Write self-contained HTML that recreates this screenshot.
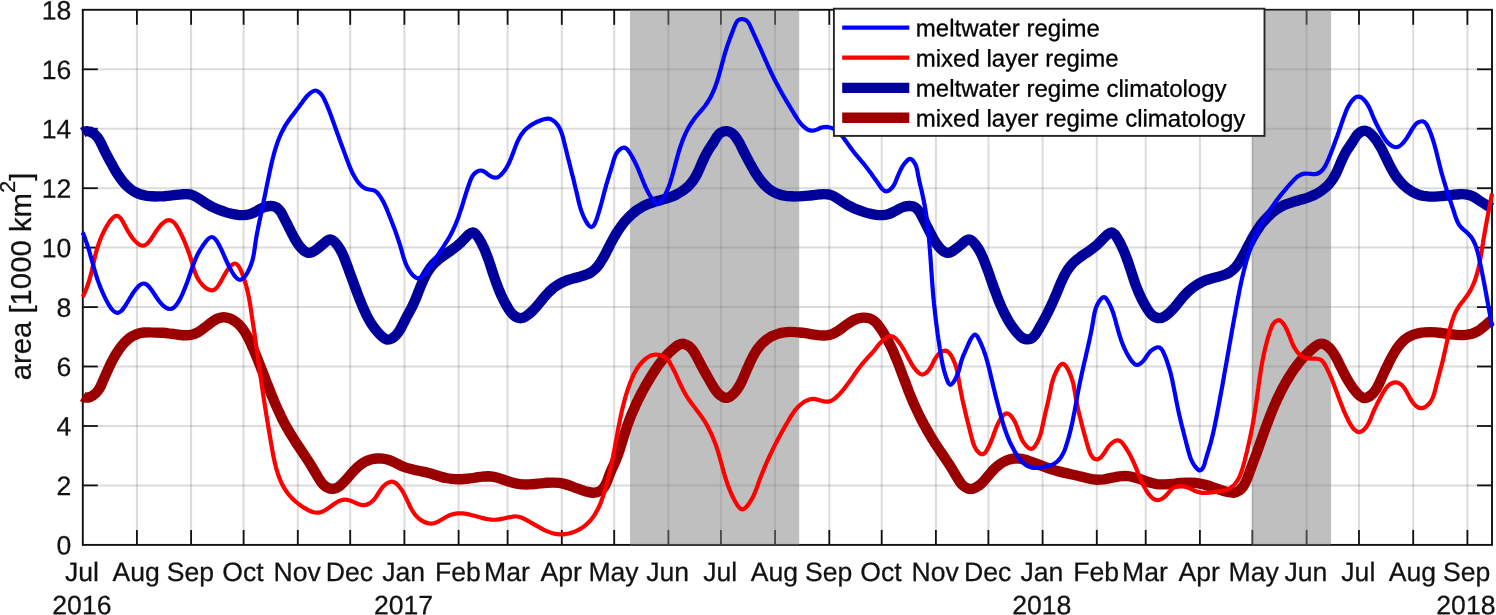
<!DOCTYPE html>
<html lang="en"><head><meta charset="utf-8"><title>area [1000 km2] time series</title>
<style>html,body{margin:0;padding:0;background:#fff}svg{display:block}</style></head>
<body>
<svg width="1496" height="615" viewBox="0 0 1496 615">
<rect x="0" y="0" width="1496" height="615" fill="#fff"/>
<g stroke="#111111" stroke-opacity="0.15" stroke-width="2" fill="none">
<path d="M136.9 9.8V544.9"/>
<path d="M191.1 9.8V544.9"/>
<path d="M243.6 9.8V544.9"/>
<path d="M297.8 9.8V544.9"/>
<path d="M350.2 9.8V544.9"/>
<path d="M404.4 9.8V544.9"/>
<path d="M458.6 9.8V544.9"/>
<path d="M507.6 9.8V544.9"/>
<path d="M561.8 9.8V544.9"/>
<path d="M614.2 9.8V544.9"/>
<path d="M668.4 9.8V544.9"/>
<path d="M720.9 9.8V544.9"/>
<path d="M775.1 9.8V544.9"/>
<path d="M829.3 9.8V544.9"/>
<path d="M881.7 9.8V544.9"/>
<path d="M935.9 9.8V544.9"/>
<path d="M988.4 9.8V544.9"/>
<path d="M1042.6 9.8V544.9"/>
<path d="M1096.8 9.8V544.9"/>
<path d="M1145.7 9.8V544.9"/>
<path d="M1199.9 9.8V544.9"/>
<path d="M1252.4 9.8V544.9"/>
<path d="M1306.6 9.8V544.9"/>
<path d="M1359.0 9.8V544.9"/>
<path d="M1413.2 9.8V544.9"/>
<path d="M1467.4 9.8V544.9"/>
<path d="M82.8 485.4H1492.0"/>
<path d="M82.8 426.0H1492.0"/>
<path d="M82.8 366.5H1492.0"/>
<path d="M82.8 307.1H1492.0"/>
<path d="M82.8 247.6H1492.0"/>
<path d="M82.8 188.2H1492.0"/>
<path d="M82.8 128.7H1492.0"/>
<path d="M82.8 69.3H1492.0"/>
</g>
<g stroke="#111111" stroke-width="1.8" fill="none">
<rect x="82.8" y="9.8" width="1409.2" height="535.1" stroke-width="1.9"/>
<path d="M136.9 544.9v-15"/>
<path d="M136.9 9.8v15"/>
<path d="M191.1 544.9v-15"/>
<path d="M191.1 9.8v15"/>
<path d="M243.6 544.9v-15"/>
<path d="M243.6 9.8v15"/>
<path d="M297.8 544.9v-15"/>
<path d="M297.8 9.8v15"/>
<path d="M350.2 544.9v-15"/>
<path d="M350.2 9.8v15"/>
<path d="M404.4 544.9v-15"/>
<path d="M404.4 9.8v15"/>
<path d="M458.6 544.9v-15"/>
<path d="M458.6 9.8v15"/>
<path d="M507.6 544.9v-15"/>
<path d="M507.6 9.8v15"/>
<path d="M561.8 544.9v-15"/>
<path d="M561.8 9.8v15"/>
<path d="M614.2 544.9v-15"/>
<path d="M614.2 9.8v15"/>
<path d="M668.4 544.9v-15"/>
<path d="M668.4 9.8v15"/>
<path d="M720.9 544.9v-15"/>
<path d="M720.9 9.8v15"/>
<path d="M775.1 544.9v-15"/>
<path d="M775.1 9.8v15"/>
<path d="M829.3 544.9v-15"/>
<path d="M829.3 9.8v15"/>
<path d="M881.7 544.9v-15"/>
<path d="M881.7 9.8v15"/>
<path d="M935.9 544.9v-15"/>
<path d="M935.9 9.8v15"/>
<path d="M988.4 544.9v-15"/>
<path d="M988.4 9.8v15"/>
<path d="M1042.6 544.9v-15"/>
<path d="M1042.6 9.8v15"/>
<path d="M1096.8 544.9v-15"/>
<path d="M1096.8 9.8v15"/>
<path d="M1145.7 544.9v-15"/>
<path d="M1145.7 9.8v15"/>
<path d="M1199.9 544.9v-15"/>
<path d="M1199.9 9.8v15"/>
<path d="M1252.4 544.9v-15"/>
<path d="M1252.4 9.8v15"/>
<path d="M1306.6 544.9v-15"/>
<path d="M1306.6 9.8v15"/>
<path d="M1359.0 544.9v-15"/>
<path d="M1359.0 9.8v15"/>
<path d="M1413.2 544.9v-15"/>
<path d="M1413.2 9.8v15"/>
<path d="M1467.4 544.9v-15"/>
<path d="M1467.4 9.8v15"/>
<path d="M82.8 485.4h15"/>
<path d="M1492.0 485.4h-15"/>
<path d="M82.8 426.0h15"/>
<path d="M1492.0 426.0h-15"/>
<path d="M82.8 366.5h15"/>
<path d="M1492.0 366.5h-15"/>
<path d="M82.8 307.1h15"/>
<path d="M1492.0 307.1h-15"/>
<path d="M82.8 247.6h15"/>
<path d="M1492.0 247.6h-15"/>
<path d="M82.8 188.2h15"/>
<path d="M1492.0 188.2h-15"/>
<path d="M82.8 128.7h15"/>
<path d="M1492.0 128.7h-15"/>
<path d="M82.8 69.3h15"/>
<path d="M1492.0 69.3h-15"/>
</g>
<rect x="630.0" y="9.8" width="169.2" height="535.1" fill="#808080" fill-opacity="0.5"/>
<rect x="1251.9" y="9.8" width="79.2" height="535.1" fill="#808080" fill-opacity="0.5"/>
<g fill="none" stroke-linejoin="round">
<path d="M82.7 132.5C84.3 131.5 85.9 131.0 87.8 131.2C89.6 131.3 91.6 132.2 93.4 133.4C95.2 134.6 96.6 136.2 97.9 137.9C99.1 139.5 100.1 141.4 101.0 143.2C101.9 145.1 102.8 146.9 103.6 148.7C104.5 150.5 105.4 152.2 106.2 153.9C107.1 155.6 108.0 157.3 108.9 159.0C109.8 160.7 110.8 162.5 111.8 164.2C112.7 166.0 113.7 167.8 114.8 169.6C115.8 171.4 116.9 173.2 118.1 174.9C119.2 176.6 120.4 178.3 121.7 180.0C122.9 181.6 124.3 183.2 125.6 184.6C127.0 186.1 128.5 187.4 130.0 188.6C131.5 189.9 133.1 191.0 134.8 191.9C136.4 192.8 138.2 193.6 140.0 194.2C141.8 194.8 143.7 195.2 145.7 195.6C147.6 195.9 149.6 196.2 151.6 196.3C153.6 196.4 155.7 196.5 157.7 196.4C159.8 196.4 161.9 196.3 164.0 196.2C166.1 196.0 168.1 195.8 170.2 195.6C172.3 195.4 174.3 195.2 176.3 194.9C178.3 194.7 180.3 194.5 182.2 194.3C184.2 194.2 186.1 194.1 187.9 194.2C189.8 194.4 191.6 194.8 193.4 195.5C195.2 196.2 197.0 197.3 198.8 198.5C200.6 199.7 202.3 200.9 204.1 202.1C205.8 203.2 207.5 204.3 209.3 205.2C211.0 206.2 212.8 207.1 214.5 207.9C216.3 208.7 218.1 209.5 219.9 210.2C221.8 210.9 223.6 211.5 225.5 212.1C227.4 212.7 229.4 213.3 231.4 213.7C233.4 214.2 235.4 214.6 237.5 214.8C239.5 215.1 241.5 215.2 243.5 215.1C245.5 215.0 247.5 214.7 249.4 214.2C251.3 213.7 253.1 212.9 254.9 212.0C256.7 211.0 258.5 210.0 260.2 209.0C262.0 208.1 263.9 207.2 265.8 206.6C267.7 206.1 269.7 205.8 271.6 206.0C273.6 206.1 275.4 206.7 277.0 207.7C278.5 208.8 279.8 210.4 281.0 212.2C282.1 214.0 283.1 216.0 284.1 218.0C285.0 219.9 286.0 221.7 286.9 223.5C287.8 225.3 288.6 227.0 289.5 228.7C290.4 230.5 291.3 232.2 292.1 233.9C293.0 235.6 293.9 237.3 294.9 239.0C295.9 240.7 297.0 242.5 298.2 244.2C299.4 245.9 300.8 247.6 302.3 249.2C303.9 250.7 305.6 252.0 307.3 252.6C309.1 253.2 310.8 252.8 312.6 251.9C314.4 251.1 316.2 249.7 317.9 248.4C319.5 247.1 321.1 245.8 322.8 244.4C324.4 243.0 326.0 241.3 327.6 240.3C329.2 239.3 330.9 239.2 332.5 240.2C334.1 241.1 335.6 242.8 337.0 244.6C338.4 246.4 339.5 248.2 340.5 250.0C341.6 251.8 342.4 253.6 343.2 255.4C344.0 257.2 344.7 259.0 345.4 260.9C346.1 262.7 346.8 264.5 347.5 266.4C348.2 268.2 348.8 270.1 349.5 272.0C350.2 273.9 350.9 275.8 351.6 277.6C352.3 279.5 353.0 281.4 353.7 283.3C354.4 285.2 355.1 287.2 355.8 289.0C356.5 290.9 357.2 292.8 357.9 294.7C358.6 296.6 359.4 298.5 360.1 300.3C360.9 302.2 361.6 304.0 362.4 305.9C363.2 307.7 364.0 309.5 364.8 311.3C365.6 313.1 366.4 314.9 367.3 316.6C368.2 318.3 369.2 320.1 370.2 321.8C371.2 323.5 372.3 325.1 373.5 326.8C374.7 328.4 375.9 330.0 377.3 331.6C378.7 333.2 380.1 334.8 381.7 336.2C383.3 337.7 385.0 338.9 386.7 339.4C388.5 339.9 390.3 339.4 392.0 338.5C393.7 337.5 395.2 336.2 396.5 334.7C397.8 333.2 399.0 331.6 400.0 329.8C401.1 328.0 402.0 326.2 402.9 324.3C403.9 322.5 404.8 320.6 405.7 318.8C406.6 317.0 407.6 315.3 408.5 313.6C409.5 311.8 410.4 310.1 411.3 308.4C412.2 306.7 413.0 304.9 413.8 303.1C414.7 301.3 415.4 299.4 416.2 297.5C416.9 295.7 417.7 293.8 418.4 291.9C419.1 290.0 419.9 288.1 420.7 286.2C421.4 284.3 422.2 282.4 423.1 280.6C423.9 278.7 424.8 276.9 425.7 275.2C426.7 273.4 427.7 271.7 428.8 270.1C429.9 268.4 431.0 266.9 432.3 265.4C433.6 263.9 435.0 262.5 436.5 261.2C438.0 259.9 439.6 258.6 441.2 257.4C442.8 256.2 444.5 255.0 446.1 253.9C447.8 252.7 449.5 251.5 451.1 250.4C452.8 249.2 454.4 248.0 455.9 246.8C457.5 245.6 459.0 244.3 460.4 243.0C461.8 241.6 463.1 240.2 464.5 238.7C466.0 237.2 467.6 235.4 469.3 234.1C471.0 232.7 472.7 232.1 474.1 232.8C475.6 233.5 476.9 235.3 478.0 237.1C479.2 239.0 480.3 240.8 481.3 242.7C482.2 244.5 483.2 246.4 484.0 248.2C484.8 250.1 485.6 251.9 486.3 253.8C487.0 255.6 487.7 257.5 488.4 259.3C489.0 261.2 489.6 263.1 490.3 264.9C490.9 266.8 491.5 268.7 492.1 270.6C492.7 272.5 493.3 274.4 494.0 276.3C494.6 278.2 495.3 280.1 496.0 282.0C496.7 283.9 497.4 285.8 498.1 287.7C498.9 289.6 499.6 291.4 500.4 293.3C501.2 295.1 502.0 296.9 502.9 298.7C503.7 300.4 504.6 302.2 505.6 303.9C506.6 305.7 507.6 307.4 508.7 309.2C509.8 310.9 511.0 312.6 512.5 314.1C513.9 315.6 515.5 316.8 517.4 317.5C519.3 318.3 521.3 318.4 523.2 317.7C525.0 317.1 526.8 315.8 528.4 314.5C530.0 313.3 531.5 311.9 532.9 310.5C534.3 309.1 535.6 307.6 536.9 306.1C538.2 304.6 539.5 303.1 540.7 301.5C542.0 300.0 543.3 298.4 544.6 296.8C545.9 295.2 547.3 293.7 548.7 292.2C550.1 290.8 551.6 289.5 553.1 288.2C554.7 287.0 556.3 285.9 558.0 284.8C559.7 283.8 561.4 282.9 563.2 282.0C565.0 281.2 566.8 280.4 568.7 279.8C570.6 279.1 572.6 278.6 574.5 278.1C576.5 277.6 578.5 277.1 580.4 276.6C582.4 276.0 584.3 275.4 586.1 274.7C587.9 274.0 589.7 273.2 591.3 272.1C592.9 271.1 594.4 269.8 595.8 268.4C597.1 267.0 598.4 265.4 599.6 263.7C600.7 262.0 601.8 260.2 602.9 258.4C603.9 256.6 604.9 254.7 605.9 252.9C606.8 251.0 607.8 249.2 608.7 247.4C609.6 245.6 610.5 243.9 611.4 242.1C612.4 240.4 613.3 238.6 614.3 236.9C615.2 235.2 616.2 233.6 617.3 231.9C618.3 230.2 619.4 228.6 620.6 227.0C621.7 225.4 622.9 223.8 624.2 222.2C625.5 220.7 626.8 219.2 628.2 217.7C629.6 216.3 631.1 214.9 632.6 213.6C634.1 212.2 635.7 211.0 637.3 209.9C639.0 208.7 640.7 207.7 642.4 206.7C644.2 205.8 646.0 204.9 647.8 204.2C649.7 203.5 651.6 202.8 653.5 202.2C655.5 201.7 657.4 201.1 659.4 200.5C661.3 200.0 663.3 199.5 665.2 198.9C667.1 198.3 669.0 197.6 670.9 196.9C672.8 196.2 674.6 195.4 676.4 194.5C678.2 193.6 679.9 192.6 681.6 191.5C683.2 190.4 684.8 189.2 686.3 188.0C687.8 186.7 689.2 185.3 690.5 183.8C691.8 182.4 693.0 180.8 694.1 179.1C695.2 177.5 696.2 175.7 697.1 173.9C698.0 172.1 698.9 170.2 699.7 168.3C700.5 166.4 701.3 164.5 702.1 162.6C702.9 160.8 703.7 158.9 704.6 157.1C705.5 155.2 706.4 153.5 707.4 151.8C708.4 150.1 709.4 148.5 710.5 146.9C711.6 145.3 712.8 143.7 713.8 142.0C714.9 140.2 715.9 138.3 717.1 136.6C718.2 134.9 719.5 133.3 721.2 132.4C722.9 131.4 725.1 131.0 727.0 131.2C728.9 131.4 730.6 132.2 732.1 133.3C733.6 134.5 735.0 136.0 736.2 137.7C737.4 139.4 738.5 141.3 739.6 143.2C740.6 145.1 741.5 147.1 742.4 148.9C743.3 150.6 744.2 152.4 745.1 154.1C746.0 155.8 746.8 157.4 747.7 159.1C748.6 160.8 749.5 162.5 750.5 164.3C751.4 166.0 752.4 167.8 753.5 169.6C754.5 171.4 755.6 173.2 756.8 174.9C757.9 176.6 759.1 178.3 760.4 180.0C761.6 181.6 763.0 183.2 764.3 184.6C765.7 186.1 767.2 187.5 768.7 188.7C770.2 189.9 771.8 191.0 773.5 191.9C775.2 192.8 776.9 193.6 778.8 194.2C780.6 194.8 782.5 195.3 784.4 195.6C786.4 196.0 788.3 196.2 790.4 196.3C792.4 196.4 794.4 196.5 796.5 196.4C798.6 196.4 800.6 196.3 802.7 196.1C804.8 196.0 806.9 195.8 808.9 195.6C811.0 195.4 813.0 195.1 815.1 194.9C817.1 194.7 819.0 194.4 821.0 194.3C822.9 194.1 824.8 194.1 826.7 194.3C828.5 194.4 830.4 194.8 832.2 195.5C834.0 196.2 835.8 197.3 837.5 198.5C839.3 199.7 841.1 201.0 842.8 202.1C844.6 203.2 846.3 204.3 848.0 205.3C849.8 206.2 851.5 207.1 853.3 207.9C855.1 208.8 856.8 209.5 858.7 210.2C860.5 210.9 862.4 211.5 864.3 212.1C866.2 212.7 868.2 213.3 870.2 213.7C872.2 214.2 874.2 214.6 876.2 214.8C878.2 215.1 880.3 215.2 882.3 215.1C884.3 215.0 886.2 214.7 888.1 214.2C890.0 213.7 891.8 212.9 893.6 211.9C895.4 211.0 897.2 210.0 899.0 209.0C900.8 208.0 902.6 207.2 904.5 206.6C906.5 206.1 908.5 205.8 910.4 206.0C912.3 206.1 914.2 206.7 915.7 207.8C917.3 208.9 918.6 210.5 919.7 212.3C920.8 214.1 921.8 216.1 922.8 218.0C923.8 219.9 924.7 221.7 925.6 223.5C926.5 225.3 927.4 227.1 928.2 228.8C929.1 230.5 930.0 232.2 930.9 233.9C931.8 235.6 932.7 237.3 933.6 239.1C934.6 240.8 935.7 242.5 936.9 244.2C938.1 245.9 939.5 247.7 941.1 249.2C942.6 250.8 944.3 252.1 946.1 252.6C947.8 253.2 949.6 252.8 951.4 251.9C953.2 251.0 954.9 249.7 956.6 248.3C958.3 247.0 959.9 245.8 961.5 244.4C963.1 242.9 964.7 241.2 966.4 240.3C968.0 239.3 969.6 239.2 971.2 240.2C972.8 241.1 974.3 242.8 975.6 244.7C977.0 246.5 978.2 248.3 979.2 250.1C980.2 251.9 981.1 253.7 981.9 255.5C982.7 257.3 983.5 259.1 984.2 260.9C984.9 262.7 985.6 264.5 986.3 266.4C987.0 268.3 987.7 270.1 988.4 272.0C989.1 273.9 989.7 275.8 990.4 277.7C991.0 279.6 991.7 281.5 992.4 283.4C993.0 285.3 993.7 287.2 994.4 289.1C995.1 291.0 995.8 292.9 996.5 294.8C997.2 296.7 997.9 298.5 998.7 300.4C999.4 302.3 1000.2 304.1 1001.0 306.0C1001.8 307.8 1002.6 309.6 1003.5 311.4C1004.3 313.2 1005.2 315.0 1006.2 316.7C1007.1 318.4 1008.1 320.1 1009.1 321.8C1010.1 323.5 1011.2 325.2 1012.4 326.8C1013.5 328.4 1014.7 330.0 1016.0 331.6C1017.4 333.2 1018.8 334.8 1020.3 336.2C1021.8 337.7 1023.6 338.8 1025.4 339.2C1027.3 339.6 1029.2 339.4 1030.9 338.7C1032.6 337.9 1034.0 336.5 1035.2 334.8C1036.4 333.2 1037.5 331.3 1038.5 329.5C1039.6 327.7 1040.6 325.9 1041.6 324.1C1042.6 322.4 1043.6 320.6 1044.5 318.8C1045.5 317.1 1046.4 315.3 1047.3 313.5C1048.2 311.8 1049.1 310.0 1049.9 308.2C1050.8 306.4 1051.6 304.6 1052.4 302.8C1053.2 301.1 1054.0 299.2 1054.8 297.4C1055.6 295.6 1056.4 293.8 1057.2 291.9C1057.9 290.0 1058.7 288.2 1059.5 286.3C1060.2 284.4 1061.0 282.5 1061.9 280.7C1062.7 278.8 1063.6 277.0 1064.5 275.2C1065.4 273.4 1066.4 271.7 1067.5 270.0C1068.6 268.4 1069.7 266.8 1071.0 265.3C1072.3 263.8 1073.7 262.4 1075.2 261.1C1076.7 259.8 1078.3 258.5 1079.9 257.3C1081.5 256.1 1083.2 255.0 1084.9 253.8C1086.6 252.7 1088.2 251.6 1089.9 250.4C1091.6 249.3 1093.2 248.1 1094.7 246.8C1096.3 245.6 1097.8 244.3 1099.1 242.9C1100.5 241.6 1101.8 240.1 1103.2 238.6C1104.7 237.1 1106.3 235.4 1108.0 234.1C1109.8 232.8 1111.5 232.2 1112.9 232.9C1114.3 233.6 1115.6 235.3 1116.7 237.1C1117.8 239.0 1118.9 240.8 1119.9 242.6C1120.8 244.5 1121.7 246.3 1122.6 248.2C1123.4 250.0 1124.2 251.9 1125.0 253.8C1125.7 255.7 1126.5 257.5 1127.1 259.4C1127.8 261.3 1128.5 263.2 1129.1 265.1C1129.7 267.0 1130.3 268.9 1131.0 270.8C1131.6 272.6 1132.2 274.5 1132.8 276.4C1133.4 278.3 1134.0 280.2 1134.7 282.1C1135.3 283.9 1136.0 285.8 1136.7 287.6C1137.4 289.5 1138.2 291.3 1139.0 293.2C1139.8 295.0 1140.6 296.8 1141.5 298.6C1142.4 300.4 1143.4 302.2 1144.4 304.0C1145.4 305.8 1146.4 307.5 1147.5 309.3C1148.6 311.0 1149.8 312.7 1151.2 314.2C1152.6 315.6 1154.2 316.8 1156.2 317.5C1158.1 318.2 1160.1 318.3 1161.9 317.7C1163.8 317.1 1165.5 315.9 1167.1 314.6C1168.7 313.4 1170.2 312.0 1171.6 310.5C1173.0 309.1 1174.4 307.6 1175.7 306.0C1177.0 304.5 1178.2 302.9 1179.5 301.3C1180.8 299.7 1182.0 298.2 1183.3 296.6C1184.6 295.1 1186.0 293.6 1187.4 292.2C1188.8 290.8 1190.3 289.5 1191.9 288.3C1193.4 287.1 1195.0 285.9 1196.7 284.9C1198.4 283.8 1200.1 282.9 1201.9 282.0C1203.7 281.2 1205.6 280.4 1207.5 279.7C1209.4 279.1 1211.3 278.5 1213.3 278.0C1215.3 277.5 1217.2 277.0 1219.2 276.5C1221.1 276.0 1223.0 275.4 1224.9 274.7C1226.7 274.0 1228.4 273.2 1230.0 272.1C1231.6 271.1 1233.1 269.8 1234.5 268.4C1235.8 267.0 1237.1 265.4 1238.3 263.7C1239.5 262.0 1240.6 260.2 1241.6 258.4C1242.6 256.5 1243.6 254.7 1244.6 252.8C1245.5 251.0 1246.5 249.2 1247.4 247.4C1248.3 245.6 1249.2 243.8 1250.2 242.1C1251.1 240.3 1252.0 238.6 1253.0 236.9C1254.0 235.2 1255.0 233.5 1256.0 231.9C1257.0 230.2 1258.1 228.6 1259.3 226.9C1260.4 225.3 1261.7 223.7 1262.9 222.2C1264.2 220.6 1265.6 219.1 1267.0 217.7C1268.4 216.2 1269.8 214.8 1271.3 213.5C1272.9 212.2 1274.4 211.0 1276.1 209.8C1277.7 208.7 1279.4 207.6 1281.2 206.7C1282.9 205.7 1284.7 204.9 1286.6 204.2C1288.4 203.5 1290.3 202.8 1292.3 202.2C1294.2 201.6 1296.2 201.1 1298.1 200.5C1300.1 200.0 1302.0 199.4 1303.9 198.9C1305.9 198.3 1307.8 197.6 1309.7 196.9C1311.5 196.2 1313.4 195.4 1315.2 194.5C1316.9 193.6 1318.7 192.6 1320.3 191.5C1322.0 190.4 1323.5 189.2 1325.0 187.9C1326.5 186.6 1327.9 185.3 1329.2 183.8C1330.5 182.3 1331.7 180.7 1332.8 179.1C1333.9 177.4 1334.9 175.7 1335.8 173.9C1336.7 172.0 1337.6 170.2 1338.4 168.3C1339.2 166.4 1340.0 164.5 1340.8 162.6C1341.6 160.7 1342.4 158.9 1343.3 157.0C1344.2 155.2 1345.1 153.4 1346.1 151.7C1347.1 150.0 1348.2 148.4 1349.3 146.8C1350.4 145.2 1351.5 143.6 1352.6 141.9C1353.6 140.2 1354.6 138.4 1355.7 136.7C1356.8 135.0 1358.2 133.5 1360.0 132.3C1361.8 131.2 1363.9 130.5 1365.8 130.8C1367.6 131.1 1369.3 132.3 1370.7 133.8C1372.2 135.2 1373.6 136.7 1374.8 138.3C1376.1 139.9 1377.2 141.6 1378.3 143.3C1379.4 145.0 1380.4 146.7 1381.3 148.4C1382.3 150.2 1383.2 152.0 1384.0 153.8C1384.9 155.6 1385.8 157.4 1386.7 159.2C1387.5 161.0 1388.4 162.8 1389.3 164.6C1390.2 166.4 1391.1 168.2 1392.1 169.9C1393.1 171.7 1394.1 173.4 1395.2 175.1C1396.3 176.8 1397.6 178.4 1398.8 180.0C1400.1 181.6 1401.5 183.1 1402.9 184.5C1404.4 185.9 1405.9 187.2 1407.5 188.5C1409.0 189.7 1410.7 190.8 1412.4 191.8C1414.1 192.7 1415.9 193.6 1417.7 194.3C1419.5 195.0 1421.4 195.5 1423.3 195.9C1425.2 196.2 1427.2 196.4 1429.2 196.6C1431.2 196.7 1433.2 196.7 1435.3 196.6C1437.3 196.5 1439.4 196.3 1441.4 196.1C1443.5 195.9 1445.5 195.7 1447.6 195.5C1449.6 195.2 1451.7 195.0 1453.7 194.7C1455.7 194.5 1457.7 194.3 1459.7 194.2C1461.6 194.1 1463.5 194.1 1465.4 194.3C1467.3 194.5 1469.2 195.0 1471.0 195.7C1472.8 196.4 1474.6 197.4 1476.4 198.5C1478.1 199.7 1479.9 200.9 1481.6 202.0C1483.3 203.1 1485.0 204.2 1486.7 205.2C1488.4 206.2 1490.2 207.2 1491.9 208.0" stroke="#00009a" stroke-width="10.4"/>
<path d="M82.7 396.5C84.3 397.5 86.1 397.8 87.9 397.5C89.8 397.2 91.6 396.4 93.3 395.2C95.0 394.1 96.5 392.6 97.7 391.0C98.9 389.4 100.0 387.6 100.9 385.8C101.8 383.9 102.6 382.0 103.4 380.1C104.2 378.2 105.0 376.4 105.8 374.5C106.6 372.7 107.4 370.8 108.3 369.0C109.1 367.2 109.9 365.4 110.8 363.6C111.7 361.8 112.6 360.1 113.6 358.3C114.5 356.6 115.5 354.8 116.6 353.1C117.7 351.4 118.8 349.7 120.0 348.1C121.2 346.5 122.5 344.9 123.8 343.4C125.2 341.9 126.6 340.5 128.1 339.2C129.6 337.9 131.2 336.8 132.9 335.9C134.6 334.9 136.4 334.1 138.3 333.6C140.2 333.0 142.2 332.7 144.3 332.5C146.3 332.4 148.5 332.3 150.5 332.4C152.6 332.4 154.7 332.5 156.7 332.6C158.8 332.7 160.7 332.8 162.6 332.8C164.5 332.9 166.4 333.0 168.3 333.3C170.3 333.5 172.3 333.8 174.4 334.1C176.4 334.4 178.5 334.7 180.6 335.0C182.6 335.2 184.7 335.3 186.7 335.3C188.7 335.3 190.6 335.0 192.4 334.5C194.3 334.1 196.0 333.3 197.7 332.4C199.4 331.4 201.1 330.3 202.7 329.1C204.4 327.9 206.0 326.6 207.6 325.3C209.3 324.0 211.0 322.7 212.7 321.5C214.4 320.3 216.2 319.2 218.1 318.4C219.9 317.7 221.8 317.2 223.7 317.2C225.6 317.2 227.6 317.6 229.6 318.4C231.5 319.2 233.2 320.1 234.9 321.3C236.5 322.4 238.0 323.6 239.4 325.0C240.7 326.4 242.0 327.9 243.1 329.5C244.3 331.1 245.3 332.7 246.3 334.5C247.3 336.2 248.3 338.0 249.2 339.8C250.0 341.7 250.9 343.5 251.7 345.4C252.5 347.2 253.4 349.1 254.2 351.0C255.0 352.9 255.7 354.7 256.5 356.6C257.3 358.5 258.0 360.4 258.8 362.3C259.5 364.1 260.3 366.0 261.0 367.9C261.7 369.8 262.5 371.7 263.2 373.6C263.9 375.4 264.7 377.3 265.4 379.2C266.1 381.1 266.8 383.0 267.6 384.8C268.3 386.7 269.0 388.6 269.8 390.4C270.5 392.3 271.3 394.2 272.0 396.0C272.8 397.9 273.5 399.7 274.3 401.5C275.1 403.4 275.9 405.2 276.7 407.0C277.5 408.8 278.3 410.6 279.2 412.4C280.0 414.2 280.9 416.0 281.7 417.8C282.6 419.6 283.5 421.4 284.4 423.1C285.4 424.9 286.3 426.6 287.3 428.3C288.3 430.1 289.3 431.8 290.3 433.5C291.4 435.2 292.4 436.9 293.5 438.6C294.6 440.2 295.6 441.9 296.7 443.6C297.8 445.3 298.9 446.9 300.1 448.6C301.2 450.3 302.3 452.0 303.4 453.7C304.5 455.3 305.7 457.0 306.8 458.7C307.9 460.4 309.0 462.2 310.1 463.9C311.2 465.6 312.3 467.4 313.3 469.1C314.4 470.9 315.4 472.7 316.5 474.5C317.5 476.3 318.5 478.1 319.6 479.8C320.7 481.5 321.8 483.1 323.2 484.5C324.5 485.8 326.0 487.0 327.8 487.7C329.5 488.5 331.6 488.9 333.6 488.7C335.5 488.6 337.3 487.8 338.9 486.6C340.5 485.4 342.0 484.0 343.4 482.5C344.8 481.0 346.2 479.5 347.6 478.0C348.9 476.4 350.3 474.9 351.6 473.3C353.0 471.8 354.4 470.3 355.8 468.9C357.2 467.4 358.7 466.1 360.3 464.9C361.8 463.7 363.4 462.6 365.2 461.7C366.9 460.8 368.8 460.1 370.7 459.5C372.7 459.0 374.7 458.7 376.7 458.5C378.8 458.4 380.8 458.4 382.9 458.6C384.9 458.9 386.9 459.3 388.9 459.9C390.8 460.5 392.6 461.4 394.4 462.3C396.2 463.2 398.0 464.2 399.8 465.1C401.6 466.0 403.4 466.7 405.3 467.4C407.2 468.0 409.1 468.5 411.0 469.0C413.0 469.5 414.9 469.9 416.9 470.4C418.9 470.8 420.8 471.2 422.8 471.6C424.8 472.0 426.8 472.5 428.7 473.0C430.7 473.5 432.6 474.1 434.5 474.8C436.4 475.4 438.3 476.0 440.3 476.6C442.2 477.1 444.1 477.6 446.1 478.0C448.0 478.4 450.0 478.7 452.0 478.9C454.0 479.1 455.9 479.2 457.9 479.2C459.9 479.2 461.9 479.2 463.9 479.0C466.0 478.9 468.0 478.7 470.0 478.4C472.0 478.2 474.0 477.9 476.0 477.5C478.0 477.2 480.0 476.8 482.0 476.6C484.0 476.3 486.0 476.2 487.9 476.2C489.9 476.3 491.8 476.5 493.8 476.9C495.7 477.3 497.6 477.8 499.5 478.4C501.5 479.0 503.4 479.7 505.3 480.3C507.2 481.0 509.1 481.6 511.1 482.2C513.0 482.8 515.0 483.3 516.9 483.7C518.9 484.1 520.8 484.3 522.8 484.4C524.8 484.5 526.8 484.5 528.8 484.4C530.8 484.3 532.8 484.2 534.9 484.0C536.9 483.8 538.9 483.6 540.9 483.4C542.9 483.2 545.0 483.0 547.0 482.8C549.0 482.7 551.0 482.6 553.0 482.6C555.0 482.6 557.0 482.7 559.0 482.9C560.9 483.2 562.9 483.6 564.8 484.1C566.8 484.6 568.7 485.2 570.6 485.9C572.5 486.6 574.4 487.4 576.3 488.1C578.3 488.8 580.2 489.6 582.1 490.2C584.0 490.9 585.9 491.5 587.9 491.9C589.8 492.4 591.8 492.7 593.7 492.7C595.7 492.7 597.6 492.3 599.4 491.3C601.2 490.4 602.7 489.0 603.9 487.4C605.1 485.8 606.0 484.0 606.8 482.1C607.5 480.1 608.2 478.1 608.9 476.2C609.6 474.3 610.4 472.4 611.2 470.6C612.0 468.7 612.9 466.9 613.7 465.1C614.5 463.3 615.3 461.5 616.0 459.6C616.8 457.8 617.5 455.9 618.2 454.1C618.8 452.2 619.5 450.3 620.1 448.4C620.7 446.5 621.3 444.5 621.9 442.6C622.5 440.7 623.1 438.8 623.7 436.8C624.3 434.9 624.9 433.0 625.5 431.1C626.2 429.1 626.8 427.2 627.4 425.3C628.1 423.4 628.8 421.5 629.5 419.7C630.2 417.8 630.9 415.9 631.7 414.1C632.5 412.2 633.2 410.4 634.1 408.6C634.9 406.8 635.7 404.9 636.5 403.1C637.4 401.3 638.3 399.5 639.2 397.7C640.1 396.0 641.0 394.2 641.9 392.4C642.8 390.6 643.8 388.9 644.8 387.1C645.8 385.4 646.7 383.6 647.8 381.9C648.8 380.2 649.8 378.5 650.9 376.7C651.9 375.0 653.0 373.3 654.1 371.6C655.2 369.9 656.3 368.2 657.5 366.6C658.6 364.9 659.8 363.3 661.1 361.7C662.3 360.1 663.6 358.6 664.9 357.1C666.2 355.6 667.6 354.1 669.0 352.7C670.5 351.3 672.0 350.0 673.5 348.7C675.1 347.4 676.7 346.1 678.4 345.1C680.1 344.1 681.9 343.5 683.8 343.8C685.7 344.1 687.6 345.2 689.3 346.5C691.0 347.9 692.3 349.5 693.5 351.2C694.7 352.9 695.7 354.7 696.6 356.5C697.5 358.3 698.4 360.1 699.4 361.9C700.3 363.7 701.2 365.4 702.1 367.1C703.1 368.9 704.0 370.6 705.0 372.3C705.9 374.0 706.9 375.7 707.9 377.4C708.9 379.2 709.9 380.9 710.9 382.7C712.0 384.4 713.0 386.3 714.1 388.0C715.2 389.8 716.4 391.5 717.8 393.0C719.1 394.5 720.6 395.8 722.4 396.7C724.1 397.7 726.0 398.1 727.8 397.7C729.7 397.2 731.4 395.9 732.9 394.4C734.4 392.9 735.8 391.3 736.9 389.7C738.1 388.0 739.1 386.4 740.1 384.6C741.0 382.9 741.9 381.1 742.7 379.3C743.5 377.5 744.3 375.7 745.1 373.8C745.9 371.9 746.7 370.0 747.5 368.1C748.4 366.3 749.2 364.4 750.0 362.5C750.9 360.6 751.8 358.8 752.7 357.0C753.7 355.2 754.6 353.4 755.7 351.7C756.8 350.1 757.9 348.4 759.2 346.9C760.4 345.3 761.7 343.9 763.2 342.5C764.6 341.1 766.2 339.9 767.8 338.8C769.4 337.6 771.2 336.6 773.0 335.7C774.7 334.9 776.6 334.2 778.5 333.6C780.3 333.0 782.3 332.6 784.2 332.4C786.1 332.1 788.1 331.9 790.1 331.9C792.1 331.9 794.1 331.9 796.1 332.1C798.2 332.2 800.2 332.5 802.3 332.7C804.3 333.0 806.4 333.4 808.4 333.7C810.5 334.1 812.6 334.4 814.6 334.7C816.7 335.1 818.7 335.3 820.7 335.4C822.7 335.6 824.7 335.5 826.6 335.3C828.5 335.1 830.3 334.7 832.1 334.1C833.9 333.4 835.6 332.5 837.2 331.4C838.9 330.4 840.6 329.2 842.2 328.0C843.8 326.7 845.5 325.5 847.2 324.3C848.8 323.1 850.6 321.9 852.3 320.9C854.1 319.9 856.0 319.1 857.9 318.5C859.8 318.0 861.8 317.6 863.8 317.6C865.8 317.6 867.7 317.8 869.5 318.4C871.3 319.0 872.9 320.0 874.5 321.3C876.0 322.5 877.4 324.0 878.6 325.7C879.9 327.3 881.1 329.1 882.2 330.9C883.4 332.7 884.4 334.4 885.4 336.2C886.4 337.9 887.4 339.7 888.3 341.5C889.2 343.2 890.1 345.0 891.0 346.8C891.8 348.5 892.7 350.3 893.5 352.1C894.3 354.0 895.0 355.8 895.8 357.6C896.6 359.5 897.3 361.3 898.1 363.2C898.8 365.0 899.5 366.9 900.2 368.8C900.9 370.6 901.6 372.5 902.3 374.4C903.1 376.3 903.8 378.2 904.5 380.1C905.2 381.9 905.9 383.8 906.6 385.7C907.3 387.6 908.0 389.5 908.7 391.4C909.5 393.2 910.2 395.1 911.0 397.0C911.8 398.8 912.5 400.7 913.3 402.5C914.1 404.4 915.0 406.2 915.8 408.0C916.6 409.9 917.5 411.7 918.4 413.5C919.2 415.3 920.1 417.1 921.0 418.9C921.9 420.7 922.9 422.4 923.8 424.2C924.8 426.0 925.7 427.7 926.7 429.4C927.7 431.2 928.7 432.9 929.7 434.6C930.7 436.3 931.8 438.0 932.8 439.7C933.9 441.4 934.9 443.1 936.0 444.7C937.1 446.4 938.2 448.1 939.3 449.7C940.4 451.4 941.6 453.0 942.7 454.7C943.8 456.3 944.9 458.0 946.0 459.6C947.1 461.3 948.3 463.0 949.4 464.7C950.5 466.4 951.5 468.1 952.6 469.9C953.7 471.7 954.7 473.5 955.8 475.3C956.8 477.1 957.8 478.9 959.0 480.6C960.1 482.3 961.3 483.9 962.7 485.2C964.1 486.5 965.7 487.6 967.5 488.3C969.4 489.0 971.4 489.1 973.3 488.6C975.2 488.0 977.0 487.0 978.7 485.7C980.4 484.5 981.9 483.1 983.2 481.7C984.6 480.2 985.8 478.7 987.1 477.2C988.3 475.6 989.6 474.1 990.9 472.6C992.2 471.0 993.6 469.5 995.1 468.1C996.6 466.7 998.2 465.4 999.9 464.2C1001.6 463.0 1003.4 462.0 1005.2 461.1C1007.0 460.2 1008.8 459.5 1010.7 459.1C1012.7 458.6 1014.6 458.4 1016.6 458.4C1018.5 458.5 1020.5 458.8 1022.5 459.2C1024.5 459.6 1026.4 460.2 1028.4 460.8C1030.3 461.5 1032.2 462.2 1034.1 462.9C1036.0 463.6 1037.9 464.3 1039.8 465.0C1041.7 465.7 1043.5 466.4 1045.4 467.1C1047.2 467.8 1049.1 468.5 1051.0 469.1C1052.9 469.7 1054.8 470.3 1056.7 470.9C1058.6 471.4 1060.5 471.9 1062.5 472.4C1064.4 472.9 1066.4 473.3 1068.4 473.7C1070.3 474.2 1072.3 474.6 1074.3 475.0C1076.2 475.5 1078.2 475.9 1080.2 476.4C1082.1 476.8 1084.1 477.3 1086.0 477.8C1088.0 478.2 1089.9 478.7 1091.9 479.1C1093.9 479.4 1095.8 479.6 1097.8 479.7C1099.8 479.7 1101.8 479.5 1103.8 479.3C1105.8 479.0 1107.8 478.6 1109.8 478.2C1111.8 477.8 1113.8 477.4 1115.8 477.0C1117.8 476.7 1119.8 476.4 1121.8 476.2C1123.8 476.0 1125.8 476.0 1127.8 476.1C1129.7 476.3 1131.7 476.7 1133.6 477.2C1135.5 477.7 1137.5 478.3 1139.4 478.9C1141.3 479.6 1143.2 480.3 1145.1 481.0C1147.1 481.6 1149.0 482.3 1150.9 482.8C1152.9 483.4 1154.8 483.8 1156.8 484.1C1158.7 484.3 1160.7 484.4 1162.7 484.4C1164.7 484.4 1166.7 484.3 1168.7 484.1C1170.7 483.9 1172.7 483.7 1174.7 483.6C1176.7 483.4 1178.8 483.2 1180.8 483.0C1182.8 482.9 1184.8 482.8 1186.8 482.7C1188.9 482.6 1190.9 482.6 1192.9 482.7C1194.9 482.8 1196.8 483.0 1198.8 483.3C1200.8 483.6 1202.7 484.1 1204.7 484.6C1206.6 485.1 1208.5 485.8 1210.4 486.4C1212.3 487.1 1214.2 487.8 1216.2 488.5C1218.1 489.2 1220.0 489.8 1221.9 490.4C1223.8 491.1 1225.8 491.6 1227.7 492.0C1229.6 492.4 1231.6 492.8 1233.6 492.7C1235.5 492.6 1237.4 491.9 1239.0 490.7C1240.7 489.6 1242.1 488.1 1243.2 486.5C1244.4 484.8 1245.3 483.0 1246.1 481.1C1246.9 479.2 1247.7 477.2 1248.4 475.3C1249.1 473.3 1249.8 471.4 1250.5 469.6C1251.2 467.7 1251.9 465.8 1252.6 463.9C1253.3 462.1 1254.0 460.2 1254.7 458.3C1255.4 456.5 1256.1 454.6 1256.8 452.7C1257.4 450.8 1258.1 448.9 1258.8 447.0C1259.4 445.2 1260.1 443.3 1260.8 441.4C1261.4 439.5 1262.1 437.6 1262.8 435.7C1263.4 433.8 1264.1 431.9 1264.8 430.1C1265.5 428.2 1266.2 426.3 1266.9 424.4C1267.6 422.5 1268.3 420.7 1269.0 418.8C1269.7 416.9 1270.5 415.1 1271.2 413.2C1271.9 411.4 1272.7 409.5 1273.5 407.7C1274.3 405.8 1275.1 404.0 1275.9 402.2C1276.7 400.3 1277.5 398.5 1278.4 396.7C1279.2 394.9 1280.1 393.1 1281.0 391.3C1281.9 389.5 1282.8 387.7 1283.8 386.0C1284.8 384.2 1285.7 382.5 1286.8 380.7C1287.8 379.0 1288.8 377.3 1289.9 375.6C1291.0 373.9 1292.1 372.2 1293.2 370.5C1294.4 368.9 1295.5 367.2 1296.8 365.6C1298.0 364.0 1299.2 362.4 1300.5 360.9C1301.8 359.3 1303.1 357.8 1304.5 356.3C1305.9 354.8 1307.3 353.4 1308.8 352.0C1310.2 350.6 1311.7 349.3 1313.3 348.0C1314.8 346.7 1316.4 345.4 1318.1 344.5C1319.7 343.6 1321.6 343.4 1323.4 344.0C1325.3 344.6 1327.2 345.9 1328.8 347.4C1330.4 348.9 1331.8 350.5 1332.9 352.2C1334.1 353.9 1335.1 355.6 1336.0 357.4C1337.0 359.2 1337.9 361.0 1338.8 362.8C1339.6 364.6 1340.5 366.4 1341.4 368.1C1342.3 369.9 1343.2 371.7 1344.1 373.4C1345.0 375.2 1345.9 377.0 1346.9 378.7C1347.9 380.4 1348.9 382.1 1350.0 383.8C1351.1 385.5 1352.3 387.2 1353.5 388.8C1354.8 390.5 1356.1 392.2 1357.5 393.7C1358.9 395.2 1360.5 396.6 1362.1 397.3C1363.7 398.1 1365.5 398.1 1367.3 397.4C1369.2 396.7 1371.0 395.3 1372.6 393.7C1374.1 392.2 1375.4 390.5 1376.5 388.7C1377.5 386.9 1378.4 385.1 1379.3 383.3C1380.1 381.5 1380.9 379.6 1381.7 377.9C1382.5 376.1 1383.3 374.3 1384.1 372.6C1384.9 370.8 1385.8 369.0 1386.7 367.3C1387.5 365.5 1388.4 363.7 1389.3 361.8C1390.2 360.0 1391.2 358.1 1392.2 356.3C1393.2 354.5 1394.2 352.7 1395.3 351.0C1396.4 349.2 1397.6 347.5 1398.8 345.9C1400.0 344.4 1401.3 342.9 1402.7 341.5C1404.1 340.1 1405.6 338.9 1407.2 337.8C1408.8 336.7 1410.6 335.8 1412.4 335.1C1414.2 334.3 1416.1 333.7 1418.0 333.3C1420.0 332.9 1422.0 332.5 1424.1 332.4C1426.1 332.2 1428.2 332.1 1430.3 332.1C1432.3 332.1 1434.4 332.2 1436.4 332.4C1438.4 332.6 1440.4 332.9 1442.4 333.1C1444.3 333.4 1446.3 333.7 1448.3 334.0C1450.2 334.3 1452.2 334.5 1454.2 334.7C1456.2 334.9 1458.2 335.0 1460.2 335.1C1462.2 335.1 1464.2 335.0 1466.1 334.8C1468.1 334.6 1470.0 334.2 1471.9 333.7C1473.8 333.1 1475.6 332.4 1477.4 331.4C1479.1 330.5 1480.7 329.3 1482.3 327.9C1483.9 326.6 1485.5 325.2 1487.1 323.8C1488.7 322.4 1490.3 321.1 1492.0 320.1" stroke="#9a0000" stroke-width="10.4"/>
<path d="M82.7 296.9C83.6 295.1 84.4 293.4 85.1 291.7C85.8 290.1 86.5 288.4 87.1 286.8C87.7 285.2 88.2 283.6 88.7 282.0C89.2 280.5 89.7 278.9 90.1 277.4C90.5 275.9 90.9 274.4 91.3 272.9C91.7 271.4 92.0 269.9 92.3 268.4C92.7 266.9 93.0 265.4 93.3 263.9C93.7 262.4 94.0 261.0 94.3 259.5C94.7 258.0 95.0 256.5 95.4 254.9C95.8 253.4 96.2 251.9 96.6 250.3C97.1 248.8 97.6 247.2 98.1 245.6C98.6 244.0 99.2 242.4 99.8 240.7C100.5 239.1 101.2 237.4 101.9 235.6C102.7 233.9 103.6 232.1 104.5 230.3C105.4 228.5 106.4 226.7 107.5 224.9C108.5 223.1 109.6 221.5 110.7 220.1C111.9 218.7 113.0 217.5 114.1 216.8C115.2 216.0 116.2 215.7 117.2 215.9C118.2 216.0 119.2 216.7 120.1 217.7C121.0 218.8 122.0 220.1 122.9 221.7C123.8 223.3 124.7 225.1 125.7 227.0C126.7 228.8 127.7 230.8 128.9 232.7C130.0 234.5 131.2 236.4 132.4 238.0C133.7 239.6 135.0 241.1 136.3 242.3C137.6 243.5 138.9 244.5 140.2 245.1C141.4 245.6 142.7 245.8 143.8 245.6C145.0 245.4 146.1 244.7 147.1 243.8C148.2 242.8 149.2 241.5 150.3 240.1C151.3 238.7 152.3 237.0 153.4 235.3C154.5 233.6 155.6 231.9 156.8 230.2C158.0 228.5 159.3 226.8 160.6 225.3C162.0 223.8 163.4 222.6 164.7 221.7C166.1 220.7 167.5 220.2 168.8 220.1C170.2 220.0 171.4 220.5 172.6 221.4C173.8 222.3 174.9 223.5 176.0 225.0C177.0 226.5 178.0 228.2 179.0 230.0C179.9 231.7 180.8 233.5 181.6 235.2C182.4 236.9 183.2 238.6 183.9 240.2C184.6 241.8 185.2 243.4 185.9 244.9C186.5 246.5 187.1 248.0 187.7 249.5C188.2 251.0 188.7 252.5 189.3 254.0C189.8 255.5 190.3 257.0 190.7 258.5C191.2 260.0 191.7 261.5 192.1 263.1C192.6 264.6 193.1 266.1 193.5 267.7C194.0 269.2 194.5 270.8 195.1 272.4C195.7 273.9 196.3 275.5 197.0 277.0C197.8 278.5 198.6 280.0 199.6 281.4C200.6 282.8 201.7 284.2 203.0 285.5C204.3 286.8 205.8 288.0 207.3 288.9C208.8 289.7 210.3 290.3 211.7 290.3C213.1 290.3 214.3 289.8 215.5 288.8C216.6 287.9 217.7 286.6 218.7 285.0C219.8 283.4 220.8 281.6 221.8 279.7C222.9 277.8 223.9 275.8 225.1 273.9C226.2 272.0 227.3 270.2 228.5 268.6C229.6 267.0 230.8 265.7 231.9 264.8C233.0 263.9 234.1 263.4 235.1 263.5C236.2 263.6 237.2 264.4 238.1 265.5C239.0 266.7 239.9 268.3 240.7 270.0C241.5 271.8 242.2 273.7 242.9 275.6C243.6 277.4 244.2 279.2 244.7 281.0C245.3 282.8 245.8 284.5 246.3 286.2C246.7 287.9 247.2 289.5 247.5 291.1C247.9 292.8 248.3 294.4 248.6 296.0C248.9 297.6 249.2 299.1 249.5 300.7C249.8 302.3 250.0 303.8 250.3 305.4C250.5 307.0 250.8 308.5 251.0 310.1C251.2 311.7 251.5 313.2 251.7 314.8C252.0 316.4 252.2 318.0 252.4 319.6C252.7 321.3 252.9 322.9 253.1 324.5C253.4 326.1 253.6 327.8 253.9 329.4C254.1 331.0 254.3 332.7 254.6 334.3C254.8 336.0 255.0 337.6 255.3 339.3C255.5 341.0 255.7 342.6 256.0 344.3C256.2 346.0 256.4 347.6 256.7 349.3C256.9 351.0 257.1 352.6 257.4 354.3C257.6 356.0 257.9 357.7 258.1 359.3C258.3 361.0 258.6 362.7 258.8 364.4C259.0 366.0 259.3 367.7 259.5 369.4C259.8 371.1 260.0 372.7 260.2 374.4C260.5 376.1 260.7 377.7 261.0 379.4C261.2 381.0 261.4 382.7 261.7 384.4C261.9 386.0 262.2 387.6 262.4 389.3C262.7 390.9 262.9 392.6 263.1 394.2C263.4 395.8 263.6 397.5 263.9 399.1C264.1 400.7 264.4 402.4 264.6 404.0C264.9 405.6 265.2 407.3 265.4 408.9C265.7 410.5 265.9 412.1 266.2 413.8C266.4 415.4 266.7 417.0 267.0 418.6C267.2 420.3 267.5 421.9 267.8 423.5C268.0 425.2 268.3 426.8 268.6 428.5C268.9 430.1 269.1 431.7 269.4 433.4C269.7 435.0 270.0 436.7 270.3 438.3C270.5 440.0 270.8 441.6 271.1 443.3C271.4 445.0 271.7 446.6 272.0 448.3C272.3 450.0 272.6 451.7 272.9 453.3C273.2 455.0 273.5 456.7 273.9 458.4C274.2 460.0 274.6 461.7 275.0 463.4C275.4 465.0 275.8 466.7 276.2 468.3C276.7 469.9 277.2 471.5 277.7 473.1C278.2 474.7 278.8 476.3 279.3 477.8C279.9 479.3 280.6 480.9 281.3 482.4C282.0 483.8 282.7 485.3 283.5 486.7C284.3 488.1 285.1 489.5 286.0 490.9C287.0 492.2 287.9 493.5 289.0 494.8C290.0 496.0 291.1 497.2 292.3 498.4C293.5 499.6 294.7 500.7 296.0 501.8C297.2 502.9 298.6 503.9 300.0 505.0C301.4 506.0 302.8 506.9 304.3 507.9C305.8 508.8 307.3 509.7 308.9 510.5C310.5 511.2 312.1 511.9 313.7 512.3C315.3 512.7 316.9 512.8 318.4 512.6C320.0 512.4 321.5 512.0 322.9 511.3C324.4 510.6 325.9 509.7 327.4 508.7C328.8 507.8 330.3 506.7 331.7 505.7C333.2 504.6 334.6 503.6 336.1 502.7C337.5 501.8 339.0 501.0 340.5 500.4C342.0 499.9 343.5 499.6 345.1 499.6C346.6 499.6 348.2 500.0 349.8 500.5C351.4 501.1 353.0 501.8 354.7 502.5C356.3 503.2 357.9 503.9 359.6 504.4C361.2 504.9 362.8 505.2 364.4 505.1C366.0 505.0 367.6 504.4 369.0 503.6C370.5 502.8 371.9 501.8 373.1 500.6C374.3 499.4 375.3 498.1 376.2 496.7C377.1 495.4 378.0 493.9 378.9 492.5C379.7 491.0 380.7 489.6 381.7 488.2C382.8 486.9 384.1 485.5 385.5 484.4C386.9 483.3 388.4 482.4 389.9 482.0C391.5 481.5 393.0 481.7 394.3 482.3C395.7 482.9 397.0 484.0 398.2 485.3C399.4 486.6 400.5 488.2 401.5 489.7C402.5 491.2 403.4 492.7 404.2 494.3C405.1 495.8 405.8 497.4 406.5 498.9C407.3 500.5 408.0 502.0 408.7 503.5C409.4 505.0 410.1 506.5 410.8 508.0C411.6 509.4 412.4 510.8 413.3 512.1C414.2 513.5 415.1 514.8 416.2 515.9C417.3 517.1 418.5 518.3 419.8 519.3C421.2 520.3 422.7 521.3 424.3 522.0C425.9 522.8 427.6 523.3 429.3 523.5C430.9 523.7 432.5 523.6 434.1 523.2C435.6 522.7 437.1 522.1 438.6 521.3C440.1 520.5 441.6 519.6 443.1 518.7C444.6 517.8 446.1 516.9 447.7 516.2C449.2 515.4 450.8 514.7 452.4 514.3C454.1 513.8 455.7 513.6 457.4 513.4C459.0 513.3 460.7 513.3 462.3 513.4C464.0 513.6 465.6 513.8 467.3 514.1C468.9 514.4 470.5 514.8 472.2 515.2C473.8 515.6 475.4 516.1 477.0 516.5C478.7 517.0 480.3 517.4 481.9 517.9C483.5 518.3 485.2 518.7 486.8 519.0C488.4 519.3 490.1 519.5 491.7 519.7C493.4 519.8 495.0 519.8 496.7 519.7C498.3 519.6 500.0 519.3 501.7 518.9C503.4 518.6 505.1 518.2 506.8 517.8C508.4 517.4 510.1 517.0 511.7 516.8C513.4 516.5 515.0 516.4 516.6 516.5C518.2 516.6 519.7 517.0 521.2 517.5C522.7 518.1 524.2 518.8 525.7 519.6C527.2 520.4 528.7 521.2 530.1 522.1C531.6 522.9 533.1 523.8 534.5 524.6C536.0 525.5 537.5 526.4 539.0 527.2C540.5 528.0 542.0 528.8 543.5 529.6C545.0 530.3 546.5 531.0 548.0 531.6C549.5 532.2 551.1 532.8 552.6 533.2C554.2 533.6 555.8 534.0 557.4 534.2C559.0 534.4 560.6 534.5 562.3 534.4C563.9 534.3 565.6 534.1 567.2 533.8C568.9 533.5 570.5 533.1 572.2 532.5C573.8 532.0 575.4 531.4 577.0 530.6C578.5 529.9 580.0 529.0 581.5 528.1C582.9 527.2 584.3 526.2 585.6 525.1C586.9 524.1 588.1 522.9 589.2 521.7C590.4 520.5 591.4 519.3 592.4 518.0C593.4 516.7 594.3 515.3 595.2 513.9C596.0 512.5 596.8 511.1 597.6 509.6C598.4 508.1 599.1 506.6 599.7 505.1C600.4 503.5 601.0 502.0 601.6 500.4C602.2 498.8 602.7 497.2 603.2 495.6C603.8 494.0 604.3 492.4 604.8 490.8C605.2 489.1 605.7 487.5 606.2 485.9C606.6 484.3 607.1 482.7 607.5 481.1C607.9 479.4 608.3 477.8 608.7 476.2C609.1 474.6 609.5 473.0 609.9 471.3C610.2 469.7 610.6 468.1 611.0 466.5C611.3 464.8 611.7 463.2 612.0 461.6C612.3 460.0 612.7 458.3 613.0 456.7C613.3 455.1 613.6 453.4 614.0 451.8C614.3 450.2 614.6 448.5 614.9 446.9C615.2 445.3 615.5 443.6 615.8 442.0C616.1 440.4 616.4 438.7 616.7 437.1C617.0 435.4 617.3 433.8 617.6 432.2C617.9 430.5 618.2 428.9 618.5 427.2C618.9 425.6 619.2 423.9 619.5 422.3C619.8 420.7 620.2 419.0 620.5 417.4C620.8 415.7 621.2 414.1 621.5 412.5C621.9 410.8 622.3 409.2 622.7 407.6C623.1 406.0 623.5 404.3 623.9 402.7C624.3 401.1 624.7 399.5 625.2 397.9C625.6 396.3 626.1 394.7 626.6 393.1C627.1 391.5 627.6 389.9 628.2 388.3C628.7 386.8 629.3 385.2 629.9 383.6C630.4 382.1 631.1 380.5 631.7 379.0C632.4 377.4 633.1 375.9 633.8 374.4C634.5 373.0 635.3 371.5 636.2 370.1C637.0 368.6 638.0 367.2 638.9 365.9C639.9 364.6 641.0 363.3 642.2 362.0C643.3 360.8 644.5 359.6 645.9 358.5C647.2 357.4 648.7 356.5 650.2 355.8C651.8 355.2 653.4 354.8 655.1 354.6C656.8 354.5 658.5 354.6 660.1 355.0C661.7 355.4 663.2 356.1 664.6 357.0C665.9 357.9 667.1 359.0 668.1 360.3C669.1 361.7 670.0 363.1 670.8 364.6C671.7 366.1 672.5 367.6 673.2 369.1C674.0 370.6 674.8 372.2 675.5 373.7C676.2 375.2 676.9 376.7 677.6 378.3C678.3 379.8 679.0 381.3 679.7 382.8C680.4 384.4 681.1 385.9 681.9 387.4C682.6 388.9 683.3 390.3 684.1 391.8C684.9 393.3 685.7 394.7 686.6 396.1C687.5 397.5 688.4 398.9 689.3 400.2C690.3 401.6 691.2 402.9 692.2 404.3C693.2 405.6 694.3 406.9 695.3 408.2C696.3 409.5 697.3 410.9 698.3 412.2C699.3 413.5 700.3 414.9 701.3 416.2C702.3 417.6 703.2 419.0 704.1 420.4C705.0 421.8 705.8 423.2 706.7 424.7C707.5 426.2 708.3 427.7 709.0 429.2C709.8 430.7 710.5 432.2 711.2 433.7C711.9 435.2 712.6 436.8 713.2 438.3C713.9 439.9 714.5 441.5 715.1 443.0C715.7 444.6 716.2 446.2 716.8 447.8C717.3 449.4 717.8 450.9 718.3 452.5C718.8 454.1 719.3 455.7 719.7 457.3C720.2 458.9 720.6 460.5 721.0 462.1C721.5 463.6 721.9 465.2 722.3 466.8C722.8 468.4 723.2 470.0 723.6 471.6C724.1 473.1 724.5 474.7 725.0 476.3C725.5 477.9 725.9 479.5 726.5 481.1C727.0 482.6 727.5 484.2 728.1 485.8C728.7 487.4 729.3 489.0 729.9 490.5C730.6 492.1 731.3 493.7 732.0 495.3C732.8 496.9 733.5 498.5 734.4 500.0C735.3 501.6 736.2 503.2 737.1 504.8C738.1 506.3 739.2 507.7 740.3 508.5C741.4 509.3 742.6 509.5 743.8 508.9C745.0 508.4 746.3 507.1 747.5 505.6C748.6 504.2 749.7 502.5 750.7 500.9C751.7 499.3 752.5 497.8 753.3 496.2C754.0 494.6 754.7 493.1 755.3 491.5C755.9 490.0 756.5 488.5 757.1 486.9C757.6 485.4 758.2 483.9 758.7 482.3C759.3 480.8 759.8 479.3 760.4 477.8C761.0 476.2 761.6 474.7 762.2 473.2C762.8 471.7 763.4 470.1 764.1 468.6C764.7 467.1 765.3 465.6 766.0 464.0C766.7 462.5 767.3 461.0 768.0 459.5C768.7 458.0 769.4 456.5 770.1 454.9C770.8 453.4 771.5 451.9 772.3 450.4C773.0 448.9 773.8 447.4 774.5 445.9C775.3 444.4 776.0 442.9 776.8 441.4C777.6 439.9 778.4 438.4 779.2 437.0C780.0 435.5 780.8 434.0 781.6 432.5C782.4 431.0 783.2 429.6 784.1 428.1C784.9 426.6 785.7 425.2 786.6 423.7C787.4 422.2 788.3 420.8 789.2 419.3C790.0 417.9 790.9 416.4 791.8 415.0C792.7 413.6 793.7 412.3 794.6 410.9C795.6 409.6 796.7 408.4 797.8 407.2C798.9 406.0 800.1 404.9 801.4 403.9C802.6 402.9 804.0 401.9 805.5 401.2C807.0 400.4 808.6 399.7 810.2 399.3C811.9 398.9 813.6 398.9 815.3 399.1C817.0 399.4 818.7 399.9 820.4 400.4C822.0 400.9 823.7 401.4 825.3 401.6C826.9 401.8 828.5 401.8 830.0 401.3C831.5 400.8 832.9 399.9 834.3 398.9C835.6 397.8 836.9 396.6 838.2 395.4C839.4 394.1 840.6 392.9 841.7 391.6C842.8 390.3 843.9 389.0 844.9 387.7C846.0 386.4 847.0 385.1 847.9 383.7C848.9 382.4 849.9 381.0 850.8 379.7C851.8 378.3 852.7 377.0 853.6 375.6C854.6 374.3 855.5 372.9 856.5 371.5C857.4 370.2 858.4 368.9 859.4 367.5C860.4 366.2 861.5 364.9 862.5 363.6C863.6 362.3 864.7 361.0 865.8 359.8C867.0 358.5 868.1 357.3 869.2 356.0C870.4 354.8 871.5 353.5 872.6 352.3C873.7 351.0 874.8 349.8 875.8 348.5C876.8 347.2 877.8 345.9 878.8 344.7C879.9 343.4 881.0 342.1 882.2 340.9C883.5 339.7 884.9 338.5 886.5 337.6C888.1 336.6 889.7 336.0 891.2 336.1C892.8 336.1 894.2 337.0 895.5 338.2C896.8 339.4 897.9 340.8 899.0 342.2C900.0 343.5 901.0 344.9 901.8 346.3C902.7 347.7 903.5 349.1 904.3 350.5C905.1 351.9 905.8 353.3 906.6 354.7C907.3 356.2 908.1 357.6 908.9 359.1C909.7 360.6 910.5 362.1 911.4 363.6C912.3 365.1 913.4 366.7 914.5 368.2C915.6 369.7 916.7 371.1 918.0 372.2C919.2 373.4 920.5 374.2 921.8 374.5C923.1 374.7 924.4 374.2 925.7 373.2C927.0 372.3 928.2 370.9 929.3 369.4C930.4 367.9 931.3 366.3 932.1 364.7C932.8 363.2 933.6 361.7 934.3 360.3C935.1 358.8 935.9 357.4 937.0 356.0C938.1 354.6 939.4 353.3 940.8 352.3C942.3 351.2 943.9 350.6 945.3 350.6C946.7 350.7 948.0 351.5 949.1 352.8C950.3 354.0 951.3 355.6 952.2 357.4C953.1 359.1 953.9 360.8 954.5 362.5C955.2 364.1 955.7 365.8 956.2 367.4C956.7 369.1 957.1 370.7 957.4 372.3C957.7 373.9 958.0 375.5 958.3 377.1C958.6 378.7 958.8 380.3 959.1 381.9C959.4 383.5 959.7 385.1 959.9 386.7C960.2 388.3 960.5 389.9 960.8 391.5C961.2 393.1 961.5 394.7 961.8 396.3C962.1 398.0 962.5 399.6 962.8 401.2C963.2 402.8 963.6 404.5 963.9 406.1C964.3 407.7 964.7 409.4 965.1 411.0C965.4 412.6 965.8 414.3 966.2 415.9C966.6 417.5 967.0 419.2 967.4 420.8C967.8 422.4 968.2 424.1 968.7 425.7C969.1 427.4 969.5 429.0 969.9 430.7C970.3 432.3 970.7 433.9 971.2 435.6C971.6 437.2 972.0 438.9 972.4 440.5C972.9 442.1 973.4 443.7 974.0 445.3C974.6 446.8 975.4 448.3 976.3 449.7C977.3 451.1 978.6 452.5 979.9 453.4C981.3 454.3 982.7 454.5 983.9 453.7C985.1 452.9 986.2 451.4 987.1 449.7C988.1 448.0 988.9 446.2 989.7 444.6C990.4 443.0 991.1 441.4 991.7 439.9C992.3 438.4 992.8 436.9 993.4 435.4C993.9 433.9 994.4 432.4 995.0 430.9C995.5 429.4 996.0 427.9 996.7 426.4C997.3 424.8 998.0 423.3 998.9 421.7C999.7 420.2 1000.7 418.6 1001.9 417.1C1003.0 415.6 1004.3 414.3 1005.6 413.7C1006.9 413.2 1008.3 413.6 1009.5 414.6C1010.8 415.5 1012.0 417.1 1013.0 418.7C1014.0 420.2 1014.9 421.8 1015.6 423.4C1016.4 425.0 1017.0 426.6 1017.6 428.2C1018.2 429.8 1018.7 431.4 1019.2 433.0C1019.8 434.5 1020.3 436.1 1021.0 437.5C1021.6 439.0 1022.3 440.5 1023.2 441.9C1024.1 443.2 1025.1 444.6 1026.3 445.8C1027.5 447.1 1028.9 448.4 1030.3 448.8C1031.8 449.1 1033.1 448.4 1034.2 447.1C1035.4 445.8 1036.4 444.0 1037.3 442.3C1038.1 440.6 1038.8 439.0 1039.5 437.3C1040.1 435.7 1040.6 434.1 1041.0 432.5C1041.4 430.9 1041.8 429.4 1042.1 427.8C1042.5 426.2 1042.8 424.7 1043.1 423.1C1043.5 421.5 1043.8 419.8 1044.2 418.2C1044.5 416.6 1044.9 414.9 1045.3 413.3C1045.7 411.6 1046.1 410.0 1046.5 408.3C1046.9 406.7 1047.2 405.1 1047.6 403.4C1048.0 401.8 1048.4 400.2 1048.7 398.6C1049.0 397.0 1049.4 395.4 1049.7 393.9C1050.0 392.3 1050.3 390.8 1050.6 389.3C1050.9 387.7 1051.2 386.2 1051.6 384.6C1051.9 383.1 1052.4 381.5 1052.9 379.8C1053.4 378.2 1054.0 376.5 1054.8 374.7C1055.5 372.9 1056.4 371.0 1057.4 369.2C1058.3 367.4 1059.4 365.8 1060.5 364.8C1061.6 363.9 1062.8 363.6 1063.9 364.2C1065.0 364.8 1066.1 366.2 1067.1 367.9C1068.1 369.5 1069.0 371.5 1069.8 373.3C1070.6 375.2 1071.3 376.9 1071.8 378.6C1072.4 380.3 1072.8 382.0 1073.2 383.6C1073.6 385.2 1073.9 386.7 1074.2 388.3C1074.5 389.8 1074.8 391.4 1075.0 392.9C1075.3 394.4 1075.5 396.0 1075.8 397.6C1076.0 399.1 1076.3 400.7 1076.7 402.3C1077.0 404.0 1077.3 405.6 1077.7 407.2C1078.0 408.9 1078.4 410.5 1078.8 412.2C1079.2 413.8 1079.6 415.5 1080.0 417.1C1080.4 418.8 1080.8 420.4 1081.2 422.0C1081.6 423.6 1082.0 425.2 1082.4 426.8C1082.8 428.4 1083.2 429.9 1083.7 431.5C1084.1 433.0 1084.5 434.6 1084.9 436.2C1085.4 437.7 1085.8 439.3 1086.3 440.9C1086.7 442.6 1087.2 444.2 1087.7 446.0C1088.2 447.7 1088.8 449.5 1089.4 451.2C1090.0 453.0 1090.7 454.7 1091.6 456.0C1092.5 457.4 1093.7 458.5 1095.1 459.1C1096.5 459.6 1097.9 459.4 1099.3 458.5C1100.6 457.7 1101.9 456.3 1102.9 454.8C1104.0 453.4 1104.9 451.9 1105.8 450.5C1106.7 449.0 1107.6 447.6 1108.6 446.3C1109.6 445.0 1110.9 443.7 1112.4 442.6C1113.9 441.5 1115.6 440.6 1117.2 440.4C1118.7 440.2 1120.1 440.8 1121.2 441.9C1122.4 442.9 1123.4 444.4 1124.4 445.8C1125.4 447.2 1126.4 448.7 1127.2 450.2C1128.1 451.6 1129.0 453.1 1129.8 454.6C1130.6 456.1 1131.3 457.6 1132.0 459.1C1132.8 460.6 1133.5 462.1 1134.2 463.6C1134.8 465.2 1135.5 466.7 1136.1 468.2C1136.8 469.7 1137.4 471.3 1138.0 472.8C1138.7 474.3 1139.3 475.8 1139.9 477.4C1140.6 478.9 1141.2 480.4 1141.9 481.9C1142.5 483.4 1143.2 484.9 1144.0 486.4C1144.7 487.9 1145.6 489.4 1146.5 490.8C1147.4 492.3 1148.5 493.7 1149.6 495.1C1150.8 496.5 1152.1 497.8 1153.4 498.7C1154.8 499.7 1156.3 500.2 1157.8 500.1C1159.4 500.1 1160.9 499.4 1162.4 498.5C1163.9 497.6 1165.3 496.3 1166.5 495.0C1167.8 493.6 1168.9 492.2 1170.1 490.9C1171.2 489.7 1172.4 488.6 1173.8 487.8C1175.2 487.0 1176.7 486.6 1178.2 486.3C1179.8 486.1 1181.4 486.1 1183.1 486.4C1184.7 486.6 1186.4 487.0 1188.0 487.6C1189.6 488.3 1191.2 489.1 1192.8 489.8C1194.3 490.6 1195.9 491.3 1197.4 491.8C1199.0 492.3 1200.5 492.6 1202.1 492.8C1203.7 492.9 1205.3 492.9 1206.9 492.8C1208.5 492.8 1210.2 492.6 1211.9 492.4C1213.6 492.2 1215.3 491.9 1217.1 491.7C1218.9 491.4 1220.7 491.2 1222.4 490.8C1224.2 490.5 1225.9 490.1 1227.4 489.5C1228.9 488.8 1230.3 488.1 1231.5 487.1C1232.8 486.2 1233.9 485.2 1234.9 484.0C1235.9 482.8 1236.8 481.5 1237.6 480.2C1238.5 478.8 1239.2 477.3 1239.9 475.8C1240.5 474.3 1241.1 472.7 1241.7 471.1C1242.2 469.4 1242.7 467.8 1243.2 466.1C1243.7 464.4 1244.1 462.7 1244.6 461.0C1245.0 459.3 1245.4 457.7 1245.8 456.0C1246.2 454.3 1246.7 452.7 1247.1 451.0C1247.4 449.4 1247.8 447.7 1248.2 446.1C1248.6 444.4 1249.0 442.8 1249.3 441.2C1249.7 439.5 1250.0 437.9 1250.4 436.3C1250.7 434.6 1251.0 433.0 1251.3 431.4C1251.7 429.8 1252.0 428.2 1252.3 426.5C1252.6 424.9 1252.9 423.3 1253.2 421.7C1253.5 420.1 1253.7 418.4 1254.0 416.8C1254.3 415.2 1254.6 413.6 1254.8 412.0C1255.1 410.3 1255.3 408.7 1255.6 407.1C1255.8 405.4 1256.1 403.8 1256.3 402.2C1256.5 400.5 1256.8 398.9 1257.0 397.2C1257.2 395.6 1257.5 393.9 1257.7 392.3C1257.9 390.6 1258.1 389.0 1258.4 387.3C1258.6 385.7 1258.8 384.0 1259.1 382.4C1259.3 380.7 1259.5 379.0 1259.8 377.4C1260.0 375.7 1260.3 374.1 1260.5 372.4C1260.8 370.8 1261.1 369.1 1261.3 367.5C1261.6 365.8 1261.9 364.1 1262.2 362.5C1262.5 360.8 1262.8 359.2 1263.2 357.5C1263.5 355.9 1263.8 354.2 1264.2 352.6C1264.5 351.0 1264.9 349.3 1265.3 347.7C1265.7 346.0 1266.1 344.4 1266.6 342.8C1267.0 341.1 1267.4 339.5 1267.9 337.9C1268.4 336.3 1268.9 334.7 1269.4 333.0C1270.0 331.4 1270.5 329.8 1271.1 328.2C1271.7 326.6 1272.4 325.1 1273.3 323.8C1274.2 322.5 1275.5 321.3 1277.0 320.6C1278.4 320.0 1279.8 320.2 1281.0 321.1C1282.2 322.0 1283.3 323.5 1284.3 325.0C1285.2 326.5 1286.0 328.1 1286.8 329.7C1287.5 331.2 1288.2 332.8 1288.8 334.4C1289.5 336.0 1290.1 337.7 1290.7 339.2C1291.3 340.8 1291.9 342.4 1292.6 343.9C1293.2 345.4 1293.9 346.9 1294.8 348.3C1295.6 349.7 1296.5 351.0 1297.5 352.3C1298.6 353.5 1299.8 354.7 1301.2 355.7C1302.5 356.7 1304.0 357.5 1305.6 358.0C1307.2 358.5 1309.0 358.6 1310.7 358.6C1312.5 358.6 1314.3 358.5 1315.9 358.6C1317.6 358.7 1319.1 359.0 1320.5 359.7C1321.8 360.4 1322.9 361.6 1323.9 363.0C1324.8 364.4 1325.7 366.0 1326.5 367.6C1327.3 369.2 1328.1 370.8 1328.8 372.4C1329.5 373.9 1330.2 375.5 1330.9 377.1C1331.5 378.6 1332.2 380.2 1332.8 381.8C1333.4 383.3 1334.0 384.8 1334.6 386.4C1335.2 387.9 1335.7 389.5 1336.3 391.0C1336.9 392.5 1337.4 394.1 1338.0 395.6C1338.6 397.1 1339.1 398.7 1339.7 400.2C1340.3 401.7 1340.9 403.2 1341.5 404.8C1342.1 406.3 1342.7 407.8 1343.3 409.4C1343.9 410.9 1344.6 412.4 1345.3 414.0C1346.0 415.5 1346.7 417.1 1347.5 418.6C1348.2 420.2 1349.0 421.8 1349.9 423.3C1350.7 424.9 1351.6 426.4 1352.7 427.7C1353.7 429.1 1354.9 430.2 1356.3 431.1C1357.7 431.9 1359.2 432.3 1360.6 431.8C1362.1 431.4 1363.4 430.3 1364.7 428.9C1365.9 427.6 1366.9 426.2 1367.8 424.7C1368.7 423.2 1369.4 421.7 1370.1 420.2C1370.7 418.6 1371.3 417.1 1371.9 415.5C1372.5 414.0 1373.1 412.4 1373.8 410.9C1374.4 409.4 1375.1 407.9 1375.9 406.4C1376.6 405.0 1377.3 403.5 1378.1 402.0C1378.9 400.5 1379.7 399.1 1380.5 397.6C1381.3 396.1 1382.1 394.5 1382.9 393.0C1383.8 391.5 1384.7 390.0 1385.7 388.6C1386.7 387.2 1387.8 386.0 1389.1 384.9C1390.4 383.9 1391.9 383.0 1393.5 382.6C1395.1 382.2 1396.8 382.3 1398.3 382.9C1399.8 383.5 1401.3 384.6 1402.5 385.8C1403.7 387.1 1404.7 388.4 1405.5 389.8C1406.4 391.2 1407.2 392.6 1407.9 394.1C1408.7 395.6 1409.4 397.1 1410.3 398.6C1411.2 400.2 1412.2 401.7 1413.4 403.2C1414.5 404.6 1415.8 405.8 1417.1 406.7C1418.4 407.6 1419.8 408.2 1421.3 408.2C1422.8 408.2 1424.3 407.5 1425.8 406.6C1427.2 405.6 1428.6 404.3 1429.7 402.9C1430.7 401.6 1431.6 400.1 1432.3 398.6C1433.0 397.1 1433.6 395.5 1434.1 393.9C1434.6 392.3 1435.0 390.6 1435.4 389.0C1435.8 387.3 1436.2 385.7 1436.6 384.0C1437.0 382.4 1437.5 380.8 1437.9 379.2C1438.3 377.6 1438.7 376.0 1439.2 374.3C1439.6 372.7 1440.0 371.1 1440.4 369.5C1440.9 367.9 1441.3 366.3 1441.7 364.7C1442.1 363.1 1442.5 361.5 1442.9 359.9C1443.3 358.3 1443.7 356.6 1444.0 355.0C1444.4 353.4 1444.8 351.8 1445.1 350.2C1445.5 348.5 1445.9 346.9 1446.2 345.3C1446.6 343.6 1447.0 342.0 1447.3 340.4C1447.7 338.7 1448.0 337.1 1448.4 335.5C1448.8 333.8 1449.2 332.2 1449.5 330.5C1449.9 328.9 1450.3 327.3 1450.8 325.7C1451.2 324.0 1451.7 322.4 1452.2 320.8C1452.7 319.2 1453.3 317.7 1453.9 316.1C1454.5 314.6 1455.1 313.1 1455.9 311.6C1456.6 310.1 1457.4 308.7 1458.3 307.3C1459.2 305.9 1460.2 304.5 1461.2 303.2C1462.3 301.9 1463.4 300.6 1464.4 299.2C1465.5 297.9 1466.5 296.6 1467.4 295.2C1468.4 293.8 1469.2 292.4 1470.1 291.0C1470.9 289.5 1471.6 288.1 1472.3 286.6C1473.0 285.1 1473.7 283.6 1474.3 282.0C1474.9 280.5 1475.4 278.9 1475.9 277.3C1476.4 275.8 1476.9 274.2 1477.3 272.6C1477.8 271.0 1478.2 269.3 1478.6 267.7C1478.9 266.1 1479.3 264.4 1479.6 262.8C1479.9 261.1 1480.2 259.4 1480.5 257.8C1480.8 256.1 1481.1 254.4 1481.4 252.8C1481.7 251.1 1481.9 249.4 1482.2 247.8C1482.5 246.1 1482.7 244.4 1483.0 242.8C1483.2 241.1 1483.5 239.5 1483.8 237.8C1484.1 236.2 1484.4 234.5 1484.6 232.9C1484.9 231.2 1485.2 229.6 1485.5 228.0C1485.8 226.3 1486.1 224.7 1486.4 223.1C1486.7 221.5 1487.0 219.8 1487.3 218.2C1487.6 216.6 1487.9 215.0 1488.2 213.3C1488.5 211.7 1488.9 210.1 1489.2 208.4C1489.5 206.8 1489.8 205.2 1490.1 203.5C1490.4 201.9 1490.7 200.3 1491.0 198.6C1491.4 197.0 1491.7 195.3 1492.0 193.7" stroke="#ff0000" stroke-width="4.2"/>
<path d="M82.7 232.4C83.5 234.3 84.2 236.0 84.8 237.7C85.4 239.5 86.0 241.1 86.6 242.8C87.1 244.4 87.7 246.0 88.2 247.6C88.6 249.1 89.1 250.7 89.6 252.2C90.0 253.7 90.4 255.2 90.8 256.7C91.3 258.2 91.7 259.6 92.1 261.1C92.5 262.5 92.9 264.0 93.3 265.4C93.7 266.9 94.1 268.4 94.5 269.8C94.9 271.3 95.4 272.8 95.8 274.2C96.3 275.7 96.8 277.2 97.3 278.8C97.8 280.3 98.4 281.9 98.9 283.4C99.5 285.0 100.2 286.6 100.8 288.3C101.5 290.0 102.3 291.7 103.0 293.4C103.8 295.1 104.7 296.9 105.6 298.8C106.5 300.6 107.5 302.5 108.5 304.2C109.5 306.0 110.5 307.6 111.6 309.0C112.7 310.3 113.8 311.4 114.9 312.1C116.0 312.8 117.1 313.1 118.2 312.8C119.2 312.5 120.3 311.8 121.4 310.8C122.5 309.7 123.5 308.3 124.6 306.7C125.7 305.1 126.8 303.4 127.9 301.5C129.0 299.6 130.1 297.7 131.3 295.9C132.4 294.0 133.6 292.2 134.8 290.6C135.9 289.0 137.1 287.6 138.3 286.4C139.5 285.3 140.6 284.4 141.8 283.9C142.9 283.4 144.0 283.4 145.1 283.7C146.2 284.1 147.3 284.9 148.4 286.0C149.4 287.1 150.5 288.5 151.6 290.1C152.7 291.6 153.8 293.3 154.9 295.0C156.1 296.8 157.3 298.5 158.5 300.2C159.7 301.8 161.0 303.4 162.3 304.7C163.7 306.1 165.0 307.2 166.3 307.9C167.6 308.7 168.9 309.1 170.2 309.0C171.4 309.0 172.6 308.4 173.8 307.5C174.9 306.6 176.0 305.4 177.1 303.9C178.1 302.4 179.1 300.7 180.0 299.0C181.0 297.2 181.9 295.3 182.7 293.5C183.5 291.7 184.2 289.9 184.9 288.1C185.6 286.4 186.2 284.7 186.9 283.0C187.5 281.4 188.0 279.8 188.6 278.2C189.1 276.6 189.6 275.1 190.2 273.5C190.7 272.0 191.2 270.5 191.7 269.0C192.2 267.6 192.7 266.1 193.3 264.7C193.8 263.2 194.4 261.8 194.9 260.4C195.5 258.9 196.2 257.5 196.8 256.1C197.5 254.7 198.2 253.3 199.0 251.9C199.8 250.4 200.6 249.0 201.6 247.6C202.5 246.1 203.5 244.7 204.6 243.2C205.7 241.8 206.9 240.2 208.1 238.9C209.3 237.7 210.6 236.9 211.9 237.0C213.1 237.0 214.4 238.0 215.5 239.3C216.7 240.7 217.8 242.5 218.8 244.4C219.8 246.3 220.7 248.2 221.5 249.9C222.3 251.6 223.0 253.1 223.6 254.6C224.3 256.1 224.9 257.4 225.5 258.8C226.1 260.2 226.7 261.6 227.4 263.0C228.1 264.5 228.8 266.0 229.6 267.6C230.5 269.2 231.4 271.0 232.5 272.7C233.5 274.4 234.7 276.1 235.9 277.4C237.1 278.7 238.3 279.6 239.5 279.8C240.8 280.0 242.0 279.4 243.2 278.3C244.4 277.3 245.6 275.7 246.6 274.0C247.6 272.3 248.5 270.5 249.3 268.8C250.1 267.1 250.8 265.4 251.3 263.8C251.9 262.2 252.4 260.5 252.8 258.9C253.2 257.3 253.5 255.8 253.8 254.2C254.1 252.6 254.3 251.0 254.5 249.5C254.8 247.9 255.0 246.3 255.2 244.7C255.4 243.2 255.7 241.6 255.9 240.0C256.2 238.3 256.4 236.7 256.7 235.1C257.0 233.5 257.3 231.8 257.7 230.2C258.0 228.6 258.3 226.9 258.6 225.3C259.0 223.6 259.3 222.0 259.7 220.3C260.0 218.7 260.4 217.0 260.7 215.4C261.1 213.7 261.4 212.0 261.8 210.4C262.1 208.8 262.5 207.1 262.8 205.5C263.2 203.8 263.5 202.2 263.8 200.6C264.2 198.9 264.5 197.3 264.8 195.7C265.2 194.0 265.5 192.4 265.8 190.8C266.1 189.2 266.5 187.5 266.8 185.9C267.1 184.3 267.5 182.7 267.8 181.0C268.1 179.4 268.5 177.8 268.8 176.2C269.2 174.5 269.5 172.9 269.8 171.3C270.2 169.6 270.6 168.0 270.9 166.4C271.3 164.7 271.7 163.1 272.0 161.4C272.4 159.8 272.8 158.2 273.3 156.5C273.7 154.9 274.1 153.3 274.6 151.7C275.0 150.1 275.5 148.5 276.0 146.9C276.5 145.3 277.1 143.7 277.6 142.1C278.2 140.6 278.8 139.0 279.4 137.5C280.1 135.9 280.7 134.4 281.4 132.9C282.2 131.4 282.9 130.0 283.7 128.5C284.5 127.1 285.3 125.6 286.2 124.2C287.1 122.8 288.0 121.4 289.0 120.1C289.9 118.7 290.9 117.4 291.9 116.0C293.0 114.7 294.0 113.3 295.0 112.0C296.0 110.7 297.0 109.3 298.1 108.0C299.1 106.7 300.1 105.3 301.0 103.9C302.0 102.6 303.0 101.2 304.0 99.9C305.0 98.5 306.0 97.2 307.1 96.0C308.3 94.8 309.5 93.7 310.8 92.7C312.2 91.6 313.7 90.6 315.3 90.5C316.8 90.4 318.3 91.4 319.6 92.6C320.9 93.7 322.0 95.1 322.8 96.5C323.7 98.0 324.4 99.5 325.1 101.0C325.8 102.6 326.5 104.1 327.1 105.7C327.8 107.2 328.4 108.8 329.0 110.3C329.6 111.9 330.2 113.5 330.8 115.0C331.4 116.6 331.9 118.2 332.5 119.7C333.1 121.3 333.6 122.9 334.2 124.4C334.7 126.0 335.3 127.6 335.8 129.1C336.4 130.7 337.0 132.3 337.5 133.8C338.1 135.4 338.7 136.9 339.2 138.5C339.8 140.1 340.4 141.6 340.9 143.2C341.5 144.8 342.1 146.3 342.7 147.9C343.2 149.5 343.8 151.0 344.4 152.6C345.0 154.2 345.6 155.7 346.1 157.3C346.7 158.9 347.3 160.5 347.9 162.0C348.5 163.6 349.1 165.2 349.7 166.7C350.4 168.3 351.0 169.8 351.7 171.3C352.4 172.8 353.2 174.3 354.0 175.8C354.8 177.3 355.6 178.7 356.6 180.1C357.5 181.4 358.5 182.8 359.6 184.0C360.7 185.3 361.9 186.4 363.2 187.3C364.6 188.2 366.1 188.9 367.7 189.3C369.4 189.7 371.2 189.7 372.9 190.0C374.6 190.4 376.0 191.3 377.1 192.5C378.3 193.8 379.3 195.2 380.3 196.6C381.2 198.0 382.1 199.4 382.9 200.9C383.7 202.3 384.4 203.8 385.1 205.3C385.8 206.8 386.4 208.4 387.1 209.9C387.7 211.4 388.3 213.0 388.9 214.5C389.5 216.1 390.2 217.6 390.8 219.2C391.4 220.7 392.0 222.3 392.6 223.9C393.2 225.4 393.8 227.0 394.4 228.6C394.9 230.2 395.5 231.7 396.1 233.3C396.6 234.9 397.2 236.5 397.7 238.1C398.3 239.6 398.8 241.2 399.3 242.8C399.8 244.4 400.3 245.9 400.7 247.5C401.2 249.1 401.7 250.7 402.1 252.2C402.5 253.8 403.0 255.4 403.4 256.9C403.9 258.5 404.4 260.0 405.0 261.6C405.5 263.1 406.2 264.7 406.9 266.2C407.7 267.7 408.5 269.3 409.5 270.8C410.5 272.3 411.7 273.9 412.9 275.3C414.2 276.7 415.6 277.8 417.0 278.1C418.5 278.5 419.9 277.9 421.3 276.8C422.7 275.8 424.0 274.3 425.2 273.0C426.3 271.6 427.3 270.3 428.2 268.9C429.2 267.6 430.1 266.3 431.0 264.9C431.9 263.6 432.8 262.2 433.8 260.9C434.7 259.5 435.7 258.1 436.6 256.8C437.6 255.4 438.5 254.0 439.5 252.6C440.4 251.3 441.4 249.9 442.3 248.5C443.2 247.1 444.1 245.6 445.0 244.2C445.9 242.8 446.8 241.4 447.7 239.9C448.6 238.5 449.4 237.0 450.2 235.6C451.0 234.1 451.8 232.6 452.5 231.1C453.2 229.6 453.9 228.1 454.6 226.6C455.3 225.1 455.9 223.6 456.5 222.0C457.1 220.5 457.7 219.0 458.3 217.4C458.8 215.8 459.4 214.3 459.9 212.7C460.4 211.1 461.0 209.6 461.5 208.0C462.0 206.4 462.5 204.8 463.0 203.2C463.5 201.6 463.9 200.0 464.4 198.4C464.9 196.8 465.4 195.2 465.9 193.6C466.4 192.0 466.9 190.4 467.5 188.8C468.0 187.2 468.5 185.6 469.1 184.0C469.7 182.4 470.2 180.8 470.9 179.2C471.5 177.7 472.3 176.2 473.3 174.9C474.3 173.6 475.5 172.5 477.0 171.6C478.5 170.8 480.2 170.3 481.7 170.6C483.2 170.8 484.5 171.7 485.9 172.7C487.3 173.8 488.7 175.0 490.3 175.9C491.8 176.9 493.4 177.6 495.0 177.7C496.5 177.8 498.0 177.3 499.3 176.3C500.6 175.3 501.8 174.0 502.9 172.7C504.0 171.3 505.0 170.0 505.9 168.6C506.8 167.2 507.6 165.8 508.4 164.3C509.1 162.9 509.8 161.4 510.4 159.8C511.1 158.3 511.7 156.7 512.3 155.1C512.9 153.5 513.5 151.9 514.1 150.3C514.6 148.7 515.2 147.1 515.9 145.5C516.5 143.9 517.1 142.3 517.9 140.8C518.6 139.3 519.3 137.8 520.2 136.4C521.0 135.0 522.0 133.6 523.0 132.4C524.0 131.1 525.1 129.9 526.3 128.8C527.5 127.7 528.8 126.7 530.2 125.7C531.5 124.8 533.0 123.9 534.5 123.1C535.9 122.3 537.5 121.6 539.1 121.0C540.7 120.3 542.3 119.7 543.9 119.3C545.6 118.8 547.2 118.4 548.8 118.6C550.4 118.8 551.9 119.6 553.3 120.6C554.7 121.6 556.0 122.9 557.1 124.3C558.1 125.7 559.0 127.1 559.8 128.6C560.5 130.0 561.1 131.6 561.7 133.1C562.2 134.7 562.7 136.2 563.1 137.8C563.5 139.4 563.9 141.1 564.3 142.7C564.7 144.3 565.1 145.9 565.5 147.6C565.9 149.2 566.3 150.8 566.7 152.5C567.1 154.1 567.5 155.8 567.9 157.4C568.3 159.0 568.8 160.7 569.2 162.3C569.6 164.0 570.0 165.6 570.4 167.3C570.8 168.9 571.2 170.5 571.6 172.2C572.0 173.8 572.5 175.4 572.9 177.1C573.3 178.7 573.7 180.3 574.1 181.9C574.5 183.5 574.8 185.2 575.2 186.8C575.6 188.4 576.0 189.9 576.4 191.5C576.7 193.1 577.1 194.7 577.5 196.2C577.8 197.8 578.2 199.3 578.5 200.9C578.9 202.4 579.3 203.9 579.7 205.5C580.1 207.0 580.5 208.6 581.1 210.2C581.6 211.8 582.2 213.4 582.9 215.0C583.6 216.7 584.4 218.4 585.3 220.1C586.3 221.8 587.3 223.7 588.4 225.0C589.5 226.4 590.6 227.2 591.6 227.0C592.7 226.9 593.6 225.9 594.4 224.4C595.3 222.8 596.1 220.8 596.8 218.8C597.5 216.7 598.1 214.6 598.7 212.6C599.3 210.7 599.8 208.9 600.3 207.1C600.8 205.4 601.3 203.8 601.7 202.2C602.1 200.6 602.5 199.1 602.9 197.6C603.3 196.1 603.6 194.7 604.0 193.2C604.4 191.8 604.8 190.4 605.2 188.9C605.6 187.4 606.0 185.9 606.4 184.4C606.9 182.9 607.4 181.3 607.8 179.7C608.3 178.1 608.8 176.5 609.3 174.9C609.8 173.3 610.3 171.7 610.8 170.0C611.3 168.4 611.8 166.8 612.3 165.1C612.8 163.5 613.2 161.8 613.7 160.2C614.2 158.5 614.7 156.9 615.4 155.4C616.1 153.9 617.0 152.5 618.1 151.2C619.3 149.8 620.8 148.6 622.3 147.9C623.8 147.3 625.2 147.6 626.5 148.6C627.7 149.6 628.8 151.2 629.8 152.8C630.8 154.5 631.7 156.1 632.6 157.6C633.5 159.2 634.3 160.7 635.0 162.2C635.8 163.7 636.5 165.1 637.1 166.6C637.8 168.0 638.4 169.5 639.0 171.0C639.6 172.5 640.2 173.9 640.8 175.5C641.4 177.0 642.0 178.5 642.6 180.0C643.2 181.5 643.8 183.1 644.5 184.6C645.1 186.1 645.8 187.7 646.6 189.2C647.3 190.7 648.1 192.3 648.9 193.8C649.8 195.4 650.7 196.9 651.7 198.4C652.7 199.9 653.8 201.5 655.0 202.6C656.1 203.7 657.3 204.2 658.5 203.7C659.7 203.2 660.9 201.8 662.0 200.2C663.1 198.6 664.1 196.8 665.0 195.1C665.9 193.4 666.6 191.8 667.3 190.2C668.0 188.7 668.6 187.1 669.1 185.7C669.7 184.2 670.2 182.7 670.6 181.2C671.1 179.7 671.5 178.1 672.0 176.6C672.4 175.0 672.9 173.5 673.3 171.9C673.7 170.3 674.1 168.7 674.6 167.1C675.0 165.5 675.4 163.8 675.9 162.2C676.3 160.6 676.7 158.9 677.2 157.3C677.7 155.6 678.1 154.0 678.6 152.4C679.1 150.7 679.6 149.1 680.1 147.5C680.6 145.9 681.2 144.3 681.8 142.7C682.3 141.1 682.9 139.5 683.6 138.0C684.2 136.4 684.9 134.9 685.6 133.4C686.3 131.9 687.0 130.4 687.8 129.0C688.6 127.6 689.4 126.1 690.3 124.8C691.1 123.4 692.1 122.0 693.0 120.7C693.9 119.3 694.9 118.0 696.0 116.7C697.0 115.4 698.1 114.1 699.2 112.9C700.3 111.6 701.4 110.4 702.5 109.1C703.6 107.8 704.6 106.5 705.6 105.1C706.6 103.8 707.5 102.4 708.4 101.0C709.2 99.6 710.1 98.1 710.8 96.7C711.6 95.2 712.3 93.7 713.0 92.2C713.6 90.7 714.3 89.1 714.9 87.6C715.5 86.0 716.0 84.4 716.6 82.9C717.1 81.3 717.6 79.7 718.1 78.1C718.6 76.5 719.1 74.8 719.5 73.2C720.0 71.6 720.4 70.0 720.9 68.3C721.3 66.7 721.7 65.1 722.2 63.4C722.6 61.8 723.0 60.2 723.5 58.6C723.9 57.0 724.4 55.4 724.8 53.8C725.3 52.2 725.8 50.6 726.3 49.0C726.8 47.5 727.3 45.9 727.8 44.4C728.3 42.8 728.9 41.3 729.5 39.7C730.0 38.2 730.6 36.6 731.2 35.1C731.8 33.5 732.4 31.9 733.0 30.3C733.6 28.7 734.3 27.1 734.9 25.5C735.6 23.8 736.3 22.2 737.3 21.0C738.4 19.8 739.9 19.2 741.6 19.1C743.3 19.0 745.1 19.5 746.4 20.5C747.8 21.4 748.7 22.8 749.5 24.4C750.3 25.9 750.9 27.6 751.6 29.2C752.3 30.7 753.0 32.3 753.7 33.8C754.4 35.3 755.1 36.8 755.8 38.3C756.5 39.8 757.2 41.3 757.8 42.8C758.5 44.3 759.2 45.8 759.9 47.3C760.5 48.8 761.2 50.3 761.9 51.9C762.5 53.4 763.2 54.9 763.9 56.5C764.5 58.0 765.2 59.5 765.9 61.0C766.6 62.6 767.3 64.1 767.9 65.6C768.6 67.1 769.3 68.7 770.0 70.2C770.7 71.7 771.5 73.2 772.2 74.7C772.9 76.2 773.7 77.7 774.4 79.2C775.2 80.7 775.9 82.2 776.7 83.6C777.5 85.1 778.3 86.6 779.1 88.1C779.9 89.5 780.7 91.0 781.5 92.4C782.3 93.9 783.2 95.3 784.0 96.8C784.8 98.2 785.7 99.7 786.5 101.1C787.3 102.5 788.2 104.0 789.1 105.4C789.9 106.8 790.8 108.2 791.6 109.7C792.5 111.1 793.4 112.5 794.2 113.9C795.1 115.4 796.0 116.8 796.9 118.2C797.7 119.6 798.7 121.0 799.7 122.3C800.7 123.6 801.8 124.9 803.1 126.1C804.3 127.3 805.7 128.4 807.3 129.3C808.8 130.1 810.4 130.7 812.0 130.7C813.6 130.7 815.2 130.2 816.8 129.6C818.4 128.9 820.0 128.1 821.6 127.5C823.3 127.0 824.9 126.8 826.6 126.8C828.2 126.9 829.8 127.3 831.4 127.9C832.9 128.5 834.4 129.2 835.7 130.2C837.1 131.1 838.3 132.1 839.5 133.2C840.6 134.4 841.7 135.6 842.8 136.9C843.8 138.3 844.9 139.6 845.8 141.0C846.8 142.4 847.8 143.9 848.8 145.3C849.8 146.7 850.8 148.1 851.8 149.4C852.8 150.8 853.9 152.1 854.9 153.4C856.0 154.7 857.1 156.0 858.2 157.3C859.2 158.6 860.3 159.8 861.4 161.1C862.4 162.3 863.5 163.6 864.5 164.8C865.5 166.1 866.5 167.4 867.5 168.7C868.5 170.0 869.5 171.3 870.5 172.6C871.4 173.9 872.4 175.2 873.3 176.6C874.3 178.0 875.3 179.4 876.3 180.8C877.3 182.2 878.3 183.6 879.3 185.1C880.4 186.6 881.4 188.2 882.6 189.3C883.7 190.5 885.0 191.3 886.4 191.3C887.8 191.2 889.3 190.4 890.6 189.2C891.9 188.1 893.0 186.8 893.8 185.3C894.7 183.8 895.3 182.2 896.0 180.7C896.6 179.1 897.2 177.5 897.9 175.9C898.5 174.3 899.2 172.8 899.9 171.3C900.6 169.8 901.4 168.3 902.2 166.9C903.1 165.5 904.1 164.1 905.1 162.8C906.2 161.4 907.4 160.0 908.7 159.2C910.0 158.5 911.4 159.0 912.7 160.3C913.9 161.7 915.0 163.4 915.7 165.1C916.4 166.7 916.8 168.3 917.2 169.9C917.5 171.5 917.7 173.1 918.0 174.7C918.3 176.3 918.7 178.0 919.0 179.6C919.4 181.2 919.7 182.8 920.1 184.4C920.5 186.1 920.9 187.7 921.3 189.3C921.7 190.9 922.0 192.6 922.4 194.2C922.8 195.9 923.1 197.5 923.4 199.1C923.8 200.8 924.1 202.4 924.4 204.1C924.7 205.7 925.0 207.4 925.3 209.0C925.6 210.7 925.8 212.3 926.1 214.0C926.3 215.6 926.6 217.3 926.8 218.9C927.0 220.6 927.2 222.2 927.4 223.9C927.6 225.5 927.8 227.2 928.0 228.8C928.2 230.5 928.4 232.1 928.5 233.8C928.7 235.4 928.8 237.1 929.0 238.7C929.1 240.4 929.3 242.0 929.4 243.7C929.6 245.4 929.7 247.0 929.8 248.7C930.0 250.3 930.1 252.0 930.2 253.6C930.3 255.3 930.4 257.0 930.5 258.6C930.7 260.3 930.8 261.9 930.9 263.6C931.0 265.3 931.1 266.9 931.2 268.6C931.3 270.2 931.4 271.9 931.6 273.6C931.7 275.2 931.8 276.9 931.9 278.6C932.0 280.2 932.1 281.9 932.3 283.6C932.4 285.3 932.5 286.9 932.7 288.6C932.8 290.3 932.9 291.9 933.1 293.6C933.2 295.3 933.4 297.0 933.5 298.6C933.7 300.3 933.9 302.0 934.0 303.7C934.2 305.3 934.4 307.0 934.6 308.7C934.7 310.3 934.9 312.0 935.1 313.7C935.3 315.4 935.5 317.0 935.7 318.7C935.9 320.4 936.1 322.0 936.3 323.7C936.5 325.3 936.8 327.0 937.0 328.7C937.2 330.3 937.4 332.0 937.6 333.6C937.9 335.2 938.1 336.9 938.3 338.5C938.6 340.2 938.8 341.8 939.1 343.4C939.3 345.1 939.6 346.7 939.8 348.3C940.1 349.9 940.3 351.5 940.6 353.1C940.8 354.7 941.1 356.3 941.4 357.9C941.7 359.5 942.0 361.1 942.3 362.8C942.6 364.4 943.0 366.0 943.4 367.7C943.8 369.3 944.2 371.0 944.7 372.7C945.2 374.4 945.8 376.2 946.4 378.0C947.0 379.8 947.7 381.7 948.5 383.1C949.3 384.4 950.2 385.1 951.3 384.5C952.3 383.9 953.5 382.4 954.5 380.6C955.5 378.9 956.4 377.1 957.1 375.4C957.8 373.7 958.3 372.1 958.8 370.5C959.3 368.9 959.7 367.4 960.1 365.9C960.5 364.3 960.9 362.8 961.3 361.3C961.8 359.8 962.3 358.3 962.9 356.7C963.5 355.2 964.2 353.7 964.8 352.2C965.5 350.6 966.2 349.1 966.9 347.5C967.6 346.0 968.2 344.5 968.9 342.9C969.6 341.4 970.3 339.9 971.2 338.3C972.2 336.7 973.4 335.0 974.5 334.6C975.6 334.2 976.6 335.2 977.5 336.6C978.4 338.1 979.2 339.8 980.0 341.5C980.8 343.1 981.5 344.7 982.1 346.3C982.8 348.0 983.4 349.6 984.0 351.1C984.6 352.7 985.1 354.3 985.6 355.9C986.1 357.5 986.6 359.1 987.0 360.7C987.4 362.2 987.9 363.8 988.3 365.4C988.7 367.0 989.1 368.6 989.5 370.2C989.9 371.7 990.2 373.3 990.6 374.9C991.0 376.6 991.4 378.2 991.8 379.8C992.2 381.4 992.5 383.0 992.9 384.7C993.3 386.3 993.7 387.9 994.1 389.6C994.5 391.2 994.9 392.8 995.3 394.5C995.7 396.1 996.1 397.7 996.5 399.4C997.0 401.0 997.4 402.7 997.8 404.3C998.2 405.9 998.6 407.5 999.1 409.2C999.5 410.8 999.9 412.4 1000.4 414.0C1000.8 415.6 1001.2 417.2 1001.7 418.8C1002.1 420.4 1002.6 422.0 1003.1 423.6C1003.6 425.1 1004.1 426.7 1004.6 428.3C1005.1 429.8 1005.6 431.4 1006.2 432.9C1006.7 434.5 1007.3 436.0 1008.0 437.5C1008.6 439.1 1009.2 440.6 1009.9 442.1C1010.6 443.6 1011.3 445.1 1012.1 446.6C1012.9 448.1 1013.7 449.6 1014.5 451.1C1015.4 452.6 1016.3 454.1 1017.3 455.6C1018.2 457.0 1019.3 458.5 1020.4 459.8C1021.4 461.1 1022.6 462.3 1023.8 463.4C1025.1 464.5 1026.4 465.4 1027.8 466.1C1029.2 466.8 1030.6 467.3 1032.2 467.6C1033.8 467.9 1035.4 467.9 1037.1 467.8C1038.8 467.7 1040.5 467.5 1042.3 467.2C1044.0 466.8 1045.8 466.5 1047.5 466.1C1049.2 465.7 1050.8 465.2 1052.4 464.6C1053.9 464.0 1055.2 463.2 1056.5 462.2C1057.7 461.3 1058.8 460.2 1059.8 458.9C1060.8 457.7 1061.6 456.3 1062.4 454.8C1063.2 453.4 1063.9 451.9 1064.6 450.3C1065.2 448.7 1065.8 447.0 1066.3 445.4C1066.8 443.7 1067.3 442.1 1067.8 440.4C1068.3 438.8 1068.8 437.1 1069.2 435.5C1069.6 433.8 1070.1 432.2 1070.5 430.5C1070.9 428.9 1071.2 427.3 1071.6 425.6C1072.0 424.0 1072.3 422.4 1072.7 420.8C1073.0 419.1 1073.3 417.5 1073.6 415.9C1074.0 414.3 1074.3 412.6 1074.6 411.0C1074.9 409.4 1075.2 407.8 1075.5 406.1C1075.8 404.5 1076.1 402.9 1076.4 401.3C1076.6 399.7 1076.9 398.0 1077.2 396.4C1077.5 394.8 1077.8 393.2 1078.1 391.6C1078.4 389.9 1078.8 388.3 1079.1 386.7C1079.4 385.0 1079.7 383.4 1080.1 381.8C1080.4 380.1 1080.8 378.5 1081.1 376.9C1081.5 375.2 1081.8 373.6 1082.2 372.0C1082.6 370.3 1082.9 368.7 1083.3 367.0C1083.7 365.4 1084.1 363.8 1084.4 362.1C1084.8 360.5 1085.2 358.8 1085.6 357.2C1086.0 355.6 1086.3 353.9 1086.7 352.3C1087.1 350.6 1087.5 349.0 1087.8 347.4C1088.2 345.7 1088.6 344.1 1088.9 342.5C1089.3 340.8 1089.6 339.2 1090.0 337.6C1090.3 336.0 1090.7 334.3 1091.0 332.7C1091.3 331.1 1091.6 329.5 1091.9 327.9C1092.2 326.3 1092.5 324.6 1092.8 323.0C1093.1 321.4 1093.3 319.8 1093.6 318.2C1093.8 316.6 1094.1 315.0 1094.4 313.4C1094.8 311.8 1095.2 310.2 1095.7 308.6C1096.3 306.9 1097.0 305.3 1097.9 303.6C1098.7 301.9 1099.8 300.1 1101.0 298.8C1102.2 297.5 1103.4 296.8 1104.6 297.2C1105.7 297.7 1106.8 299.1 1107.8 300.8C1108.8 302.4 1109.7 304.4 1110.5 306.1C1111.3 307.8 1111.9 309.5 1112.5 311.1C1113.1 312.7 1113.6 314.2 1114.1 315.8C1114.6 317.3 1115.0 318.8 1115.4 320.3C1115.8 321.8 1116.2 323.3 1116.6 324.9C1117.0 326.4 1117.5 328.0 1117.9 329.5C1118.3 331.1 1118.8 332.7 1119.3 334.3C1119.8 335.9 1120.3 337.5 1120.8 339.1C1121.3 340.7 1121.9 342.3 1122.5 343.8C1123.1 345.4 1123.8 347.0 1124.5 348.5C1125.2 350.1 1126.0 351.6 1126.8 353.2C1127.6 354.7 1128.5 356.2 1129.4 357.6C1130.3 359.1 1131.3 360.6 1132.4 361.9C1133.5 363.2 1134.7 364.4 1136.0 364.8C1137.3 365.2 1138.8 364.7 1140.2 363.7C1141.7 362.6 1143.1 361.2 1144.3 359.7C1145.5 358.2 1146.4 356.8 1147.2 355.4C1148.1 354.1 1149.0 352.8 1150.1 351.6C1151.3 350.4 1152.9 349.2 1154.6 348.3C1156.4 347.4 1158.2 347.0 1159.5 347.5C1160.8 348.0 1161.8 349.2 1162.6 350.7C1163.4 352.2 1164.1 353.8 1164.7 355.4C1165.4 357.0 1166.0 358.6 1166.6 360.2C1167.2 361.8 1167.7 363.4 1168.2 365.0C1168.7 366.6 1169.2 368.2 1169.7 369.8C1170.1 371.4 1170.5 373.1 1171.0 374.7C1171.4 376.3 1171.7 377.9 1172.1 379.6C1172.5 381.2 1172.8 382.8 1173.1 384.5C1173.5 386.1 1173.8 387.7 1174.1 389.4C1174.4 391.0 1174.8 392.6 1175.1 394.3C1175.4 395.9 1175.7 397.5 1176.0 399.1C1176.3 400.8 1176.6 402.4 1177.0 404.0C1177.3 405.7 1177.6 407.3 1178.0 408.9C1178.3 410.5 1178.7 412.1 1179.0 413.8C1179.4 415.4 1179.8 417.0 1180.2 418.6C1180.5 420.2 1180.9 421.8 1181.3 423.4C1181.7 425.1 1182.1 426.7 1182.5 428.3C1182.9 429.9 1183.4 431.5 1183.8 433.2C1184.2 434.8 1184.6 436.4 1185.0 438.0C1185.5 439.7 1185.9 441.3 1186.3 442.9C1186.7 444.6 1187.2 446.2 1187.6 447.9C1188.0 449.5 1188.4 451.2 1188.9 452.8C1189.4 454.5 1189.9 456.1 1190.4 457.7C1191.0 459.2 1191.7 460.8 1192.4 462.2C1193.1 463.7 1194.0 465.1 1195.0 466.4C1196.0 467.7 1197.1 469.1 1198.4 469.9C1199.6 470.7 1201.2 470.1 1202.2 469.0C1203.3 467.8 1203.9 466.0 1204.5 464.1C1205.0 462.2 1205.5 460.4 1206.0 458.7C1206.6 457.0 1207.0 455.3 1207.5 453.7C1208.0 452.1 1208.5 450.5 1208.9 449.0C1209.4 447.4 1209.8 445.9 1210.3 444.4C1210.7 442.9 1211.1 441.4 1211.5 439.8C1211.9 438.3 1212.3 436.7 1212.7 435.1C1213.0 433.6 1213.4 432.0 1213.8 430.3C1214.1 428.7 1214.5 427.1 1214.8 425.5C1215.1 423.8 1215.5 422.2 1215.8 420.5C1216.1 418.9 1216.5 417.2 1216.8 415.6C1217.1 413.9 1217.4 412.2 1217.7 410.6C1218.0 408.9 1218.4 407.3 1218.7 405.6C1219.0 404.0 1219.3 402.3 1219.6 400.7C1219.9 399.0 1220.2 397.4 1220.5 395.7C1220.8 394.1 1221.1 392.4 1221.4 390.8C1221.7 389.1 1222.0 387.5 1222.3 385.8C1222.6 384.2 1222.9 382.5 1223.2 380.9C1223.5 379.3 1223.8 377.6 1224.0 376.0C1224.3 374.3 1224.6 372.7 1224.9 371.0C1225.2 369.4 1225.5 367.8 1225.8 366.1C1226.1 364.5 1226.4 362.8 1226.7 361.2C1226.9 359.6 1227.2 357.9 1227.5 356.3C1227.8 354.7 1228.1 353.0 1228.4 351.4C1228.7 349.7 1229.0 348.1 1229.2 346.5C1229.5 344.8 1229.8 343.2 1230.1 341.6C1230.4 339.9 1230.7 338.3 1231.0 336.7C1231.3 335.0 1231.6 333.4 1231.8 331.7C1232.1 330.1 1232.4 328.5 1232.7 326.8C1233.0 325.2 1233.3 323.6 1233.6 321.9C1233.9 320.3 1234.2 318.6 1234.5 317.0C1234.8 315.4 1235.1 313.7 1235.4 312.1C1235.7 310.4 1236.0 308.8 1236.3 307.2C1236.6 305.5 1236.9 303.9 1237.2 302.2C1237.5 300.6 1237.8 298.9 1238.2 297.3C1238.5 295.6 1238.8 294.0 1239.1 292.4C1239.4 290.7 1239.8 289.1 1240.1 287.4C1240.4 285.8 1240.8 284.1 1241.1 282.5C1241.5 280.9 1241.9 279.2 1242.2 277.6C1242.6 276.0 1243.0 274.3 1243.4 272.7C1243.8 271.1 1244.2 269.5 1244.6 267.9C1245.0 266.2 1245.4 264.6 1245.9 263.0C1246.3 261.4 1246.8 259.8 1247.3 258.2C1247.8 256.6 1248.3 255.0 1248.8 253.5C1249.3 251.9 1249.8 250.3 1250.4 248.7C1250.9 247.2 1251.5 245.6 1252.1 244.1C1252.7 242.5 1253.3 241.0 1253.9 239.4C1254.6 237.9 1255.2 236.4 1255.9 234.9C1256.6 233.4 1257.3 231.9 1258.0 230.4C1258.8 228.9 1259.5 227.4 1260.3 225.9C1261.1 224.4 1261.9 223.0 1262.7 221.5C1263.5 220.1 1264.4 218.6 1265.3 217.2C1266.1 215.8 1267.0 214.4 1267.9 213.0C1268.8 211.6 1269.7 210.2 1270.7 208.8C1271.6 207.4 1272.6 206.0 1273.6 204.6C1274.5 203.3 1275.5 201.9 1276.5 200.6C1277.5 199.2 1278.6 197.9 1279.6 196.6C1280.6 195.3 1281.7 194.0 1282.8 192.7C1283.8 191.4 1284.9 190.1 1286.0 188.8C1287.1 187.5 1288.2 186.3 1289.3 185.0C1290.4 183.8 1291.5 182.5 1292.6 181.3C1293.8 180.1 1294.9 178.9 1296.1 177.8C1297.3 176.7 1298.6 175.8 1300.0 175.1C1301.4 174.3 1302.8 173.8 1304.5 173.6C1306.1 173.4 1307.9 173.6 1309.8 173.8C1311.6 174.0 1313.4 174.3 1315.1 174.1C1316.7 173.9 1318.1 173.4 1319.4 172.6C1320.7 171.8 1321.8 170.7 1322.9 169.5C1323.9 168.2 1324.8 166.8 1325.6 165.2C1326.5 163.7 1327.2 162.0 1327.9 160.4C1328.7 158.7 1329.3 157.0 1330.0 155.4C1330.6 153.8 1331.3 152.1 1331.9 150.5C1332.5 148.9 1333.1 147.4 1333.7 145.8C1334.3 144.2 1334.8 142.7 1335.4 141.1C1336.0 139.6 1336.5 138.0 1337.1 136.5C1337.6 135.0 1338.1 133.5 1338.7 131.9C1339.2 130.4 1339.7 128.9 1340.3 127.4C1340.8 125.8 1341.3 124.3 1341.8 122.8C1342.4 121.2 1342.9 119.7 1343.5 118.1C1344.0 116.6 1344.6 115.0 1345.2 113.4C1345.8 111.8 1346.4 110.3 1347.1 108.7C1347.8 107.1 1348.7 105.6 1349.6 104.1C1350.5 102.6 1351.6 101.1 1352.9 99.8C1354.1 98.4 1355.5 97.3 1356.9 96.8C1358.4 96.3 1359.8 96.5 1361.3 97.4C1362.7 98.3 1364.0 99.6 1365.2 101.1C1366.3 102.5 1367.3 104.0 1368.1 105.5C1369.0 106.9 1369.7 108.4 1370.3 109.9C1371.0 111.4 1371.6 112.9 1372.2 114.5C1372.8 116.0 1373.4 117.5 1374.1 119.0C1374.8 120.5 1375.5 122.0 1376.2 123.5C1377.0 125.0 1377.7 126.5 1378.5 128.0C1379.3 129.5 1380.1 131.0 1380.9 132.4C1381.7 133.9 1382.5 135.4 1383.4 136.8C1384.2 138.2 1385.1 139.6 1386.2 140.9C1387.2 142.2 1388.4 143.4 1389.8 144.5C1391.2 145.6 1392.8 146.6 1394.4 147.0C1396.0 147.4 1397.5 147.2 1399.0 146.4C1400.4 145.6 1401.8 144.4 1403.0 143.0C1404.2 141.7 1405.3 140.2 1406.3 138.8C1407.2 137.4 1408.1 136.0 1408.9 134.6C1409.8 133.2 1410.6 131.8 1411.4 130.4C1412.2 129.0 1413.1 127.6 1414.1 126.2C1415.1 124.8 1416.3 123.5 1417.7 122.6C1419.2 121.7 1421.2 121.1 1422.8 121.3C1424.5 121.5 1425.6 122.6 1426.4 124.0C1427.3 125.4 1428.0 127.1 1428.7 128.6C1429.4 130.2 1430.1 131.8 1430.7 133.3C1431.3 134.9 1431.8 136.5 1432.4 138.1C1432.9 139.7 1433.4 141.3 1433.9 142.9C1434.4 144.5 1434.8 146.1 1435.2 147.7C1435.7 149.3 1436.1 150.9 1436.5 152.6C1436.9 154.2 1437.3 155.8 1437.7 157.4C1438.1 159.0 1438.5 160.6 1438.9 162.2C1439.3 163.9 1439.7 165.5 1440.1 167.1C1440.5 168.7 1440.9 170.3 1441.3 171.9C1441.8 173.5 1442.2 175.1 1442.7 176.7C1443.1 178.3 1443.6 179.9 1444.1 181.5C1444.6 183.1 1445.1 184.7 1445.6 186.3C1446.1 187.9 1446.6 189.5 1447.1 191.1C1447.6 192.6 1448.1 194.2 1448.6 195.8C1449.2 197.4 1449.7 199.0 1450.2 200.6C1450.8 202.2 1451.3 203.8 1451.8 205.3C1452.3 206.9 1452.9 208.5 1453.4 210.1C1453.9 211.7 1454.4 213.3 1454.9 214.9C1455.5 216.5 1456.0 218.1 1456.6 219.6C1457.2 221.2 1457.8 222.6 1458.7 224.1C1459.5 225.5 1460.6 226.8 1461.8 228.0C1463.0 229.2 1464.3 230.3 1465.7 231.4C1467.0 232.6 1468.3 233.7 1469.4 235.0C1470.5 236.2 1471.5 237.5 1472.4 238.9C1473.2 240.3 1474.0 241.8 1474.7 243.3C1475.3 244.8 1475.9 246.3 1476.4 247.9C1477.0 249.5 1477.4 251.1 1477.8 252.7C1478.2 254.3 1478.6 256.0 1479.0 257.6C1479.3 259.3 1479.7 260.9 1480.0 262.6C1480.3 264.2 1480.7 265.9 1481.0 267.5C1481.3 269.2 1481.7 270.8 1482.0 272.5C1482.3 274.1 1482.7 275.7 1483.0 277.4C1483.3 279.0 1483.6 280.6 1484.0 282.3C1484.3 283.9 1484.6 285.5 1484.9 287.2C1485.2 288.8 1485.5 290.4 1485.8 292.1C1486.1 293.7 1486.4 295.3 1486.7 297.0C1487.0 298.6 1487.3 300.2 1487.6 301.9C1487.9 303.5 1488.2 305.1 1488.5 306.8C1488.8 308.4 1489.1 310.1 1489.4 311.7C1489.7 313.3 1490.0 315.0 1490.3 316.6C1490.6 318.3 1490.9 319.9 1491.1 321.6C1491.4 323.2 1491.7 324.9 1492.0 326.5" stroke="#0000ff" stroke-width="4.2"/>
</g>
<g font-family="'Liberation Sans', Arial, Helvetica, sans-serif" font-size="26.6" fill="#111111" stroke="#111111" stroke-width="0.25">
<text x="71.3" y="554.5" text-anchor="end" transform="rotate(0.03 71.3 554.5)">0</text>
<text x="71.3" y="495.0" text-anchor="end" transform="rotate(0.03 71.3 495.0)">2</text>
<text x="71.3" y="435.6" text-anchor="end" transform="rotate(0.03 71.3 435.6)">4</text>
<text x="71.3" y="376.1" text-anchor="end" transform="rotate(0.03 71.3 376.1)">6</text>
<text x="71.3" y="316.7" text-anchor="end" transform="rotate(0.03 71.3 316.7)">8</text>
<text x="71.3" y="257.2" text-anchor="end" transform="rotate(0.03 71.3 257.2)">10</text>
<text x="71.3" y="197.8" text-anchor="end" transform="rotate(0.03 71.3 197.8)">12</text>
<text x="71.3" y="138.3" text-anchor="end" transform="rotate(0.03 71.3 138.3)">14</text>
<text x="71.3" y="78.9" text-anchor="end" transform="rotate(0.03 71.3 78.9)">16</text>
<text x="71.3" y="19.4" text-anchor="end" transform="rotate(0.03 71.3 19.4)">18</text>
<text x="82.0" y="581.0" text-anchor="middle" transform="rotate(0.03 82.0 581.0)">Jul</text>
<text x="136.2" y="581.0" text-anchor="middle" transform="rotate(0.03 136.2 581.0)">Aug</text>
<text x="190.4" y="581.0" text-anchor="middle" transform="rotate(0.03 190.4 581.0)">Sep</text>
<text x="242.9" y="581.0" text-anchor="middle" transform="rotate(0.03 242.9 581.0)">Oct</text>
<text x="297.1" y="581.0" text-anchor="middle" transform="rotate(0.03 297.1 581.0)">Nov</text>
<text x="349.5" y="581.0" text-anchor="middle" transform="rotate(0.03 349.5 581.0)">Dec</text>
<text x="403.7" y="581.0" text-anchor="middle" transform="rotate(0.03 403.7 581.0)">Jan</text>
<text x="457.9" y="581.0" text-anchor="middle" transform="rotate(0.03 457.9 581.0)">Feb</text>
<text x="506.9" y="581.0" text-anchor="middle" transform="rotate(0.03 506.9 581.0)">Mar</text>
<text x="561.1" y="581.0" text-anchor="middle" transform="rotate(0.03 561.1 581.0)">Apr</text>
<text x="613.5" y="581.0" text-anchor="middle" transform="rotate(0.03 613.5 581.0)">May</text>
<text x="667.7" y="581.0" text-anchor="middle" transform="rotate(0.03 667.7 581.0)">Jun</text>
<text x="720.2" y="581.0" text-anchor="middle" transform="rotate(0.03 720.2 581.0)">Jul</text>
<text x="774.4" y="581.0" text-anchor="middle" transform="rotate(0.03 774.4 581.0)">Aug</text>
<text x="828.6" y="581.0" text-anchor="middle" transform="rotate(0.03 828.6 581.0)">Sep</text>
<text x="881.0" y="581.0" text-anchor="middle" transform="rotate(0.03 881.0 581.0)">Oct</text>
<text x="935.2" y="581.0" text-anchor="middle" transform="rotate(0.03 935.2 581.0)">Nov</text>
<text x="987.7" y="581.0" text-anchor="middle" transform="rotate(0.03 987.7 581.0)">Dec</text>
<text x="1041.9" y="581.0" text-anchor="middle" transform="rotate(0.03 1041.9 581.0)">Jan</text>
<text x="1096.1" y="581.0" text-anchor="middle" transform="rotate(0.03 1096.1 581.0)">Feb</text>
<text x="1145.0" y="581.0" text-anchor="middle" transform="rotate(0.03 1145.0 581.0)">Mar</text>
<text x="1199.2" y="581.0" text-anchor="middle" transform="rotate(0.03 1199.2 581.0)">Apr</text>
<text x="1253.7" y="581.0" text-anchor="middle" transform="rotate(0.03 1253.7 581.0)">May</text>
<text x="1305.9" y="581.0" text-anchor="middle" transform="rotate(0.03 1305.9 581.0)">Jun</text>
<text x="1358.3" y="581.0" text-anchor="middle" transform="rotate(0.03 1358.3 581.0)">Jul</text>
<text x="1412.5" y="581.0" text-anchor="middle" transform="rotate(0.03 1412.5 581.0)">Aug</text>
<text x="1466.7" y="581.0" text-anchor="middle" transform="rotate(0.03 1466.7 581.0)">Sep</text>
<text x="81.9" y="614.2" text-anchor="middle" transform="rotate(0.03 81.9 614.2)">2016</text>
<text x="403.6" y="614.2" text-anchor="middle" transform="rotate(0.03 403.6 614.2)">2017</text>
<text x="1041.8" y="614.2" text-anchor="middle" transform="rotate(0.03 1041.8 614.2)">2018</text>
<text x="1495.5" y="614.2" text-anchor="end" transform="rotate(0.03 1495.5 614.2)">2018</text>
</g>
<g font-family="'Liberation Sans', Arial, Helvetica, sans-serif" fill="#111111" stroke="#111111" stroke-width="0.25" transform="translate(30.9 276.5) rotate(-90)">
<text x="0" y="0" text-anchor="middle" font-size="29.3">area [1000 km<tspan dy="-16.3" font-size="22.0">2</tspan><tspan dy="16.3">]</tspan></text>
</g>
<rect x="833.9" y="8.7" width="430.6" height="127.2" fill="#fff" stroke="#262626" stroke-width="1.9"/>
<g font-family="'Liberation Sans', Arial, Helvetica, sans-serif" font-size="24.0" fill="#000" stroke-width="0.3">
<path d="M842.2 27.6H909.3" stroke="#0000ff" stroke-width="4.2"/>
<text x="915.8" y="36.3" stroke="#000" transform="rotate(0.03 915.8 36.3)">meltwater regime</text>
<path d="M842.2 57.7H909.3" stroke="#ff0000" stroke-width="4.2"/>
<text x="915.8" y="66.4" stroke="#000" transform="rotate(0.03 915.8 66.4)">mixed layer regime</text>
<path d="M842.2 87.9H909.3" stroke="#00009a" stroke-width="10.4"/>
<text x="915.8" y="96.6" stroke="#000" transform="rotate(0.03 915.8 96.6)">meltwater regime climatology</text>
<path d="M842.2 117.8H909.3" stroke="#9a0000" stroke-width="10.4"/>
<text x="915.8" y="126.5" stroke="#000" transform="rotate(0.03 915.8 126.5)">mixed layer regime climatology</text>
</g>
</svg>
</body></html>
